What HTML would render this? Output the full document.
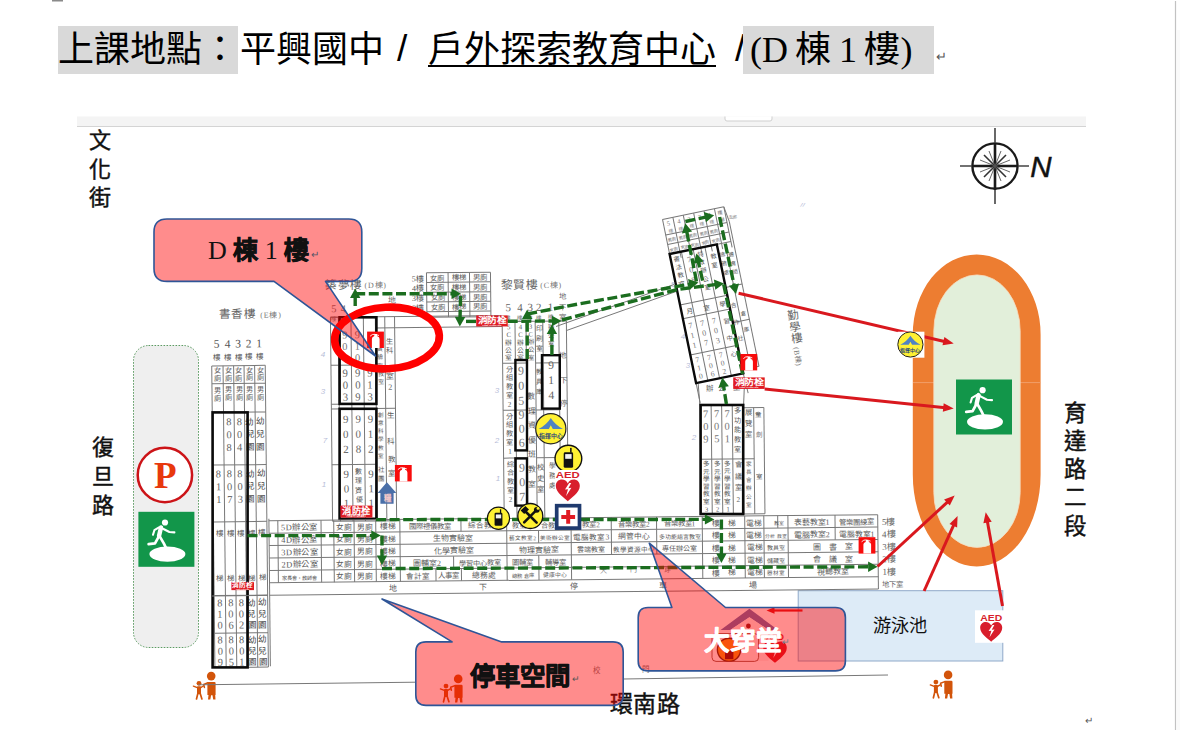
<!DOCTYPE html>
<html lang="zh-TW">
<head>
<meta charset="utf-8">
<title>上課地點</title>
<style>
html,body{margin:0;padding:0;background:#fff;}
body{width:1180px;height:730px;position:relative;overflow:hidden;font-family:"Liberation Serif",serif;}
#title{position:absolute;left:58px;top:26px;height:48px;line-height:48px;font-size:36px;font-weight:300;color:#000;white-space:nowrap;font-family:"Liberation Serif",serif;}
#title span{position:absolute;top:0;height:48px;display:block;}
.hl{background:#d9d9d9;}
svg{position:absolute;left:0;top:0;}
</style>
</head>
<body>
<div id="title">
<span class="hl" style="left:0;width:180px;">上課地點：</span>
<span style="left:182px;">平興國中</span>
<span style="left:339px;font-family:'Liberation Sans',sans-serif;font-size:37px;top:-1px;">/</span>
<span style="left:370px;text-decoration:underline;text-decoration-thickness:2px;text-underline-offset:3px;">戶外探索教育中心</span>
<span style="left:677px;font-family:'Liberation Sans',sans-serif;font-size:37px;top:-1px;">/</span>
<span class="hl" style="left:685px;width:184px;padding-left:7px;word-spacing:-1.5px;">(D 棟 1 樓)</span>
<span style="left:878px;font-size:13px;color:#555;top:7px;font-family:'Liberation Sans',sans-serif;">↵</span>
</div>
<svg width="1180" height="730" viewBox="0 0 1180 730">
<rect x="52.0" y="0.0" width="11.0" height="1.5" fill="#8a8a8a" stroke="none" stroke-width="1" rx="0" />
<rect x="77.0" y="116.5" width="1009.0" height="10.0" fill="#f4f4f4" stroke="none" stroke-width="1" rx="0" />
<line x1="77.0" y1="126.5" x2="1086.0" y2="126.5" stroke="#d4d4d4" stroke-width="1" />
<path d="M725,116.5 V119 Q725,121 727,121 H770 Q772,121 772,119 V116.5" fill="#fff" stroke="#cfcfcf" stroke-width="1"/>
<line x1="1175.5" y1="1.0" x2="1175.5" y2="730.0" stroke="#c2c2c2" stroke-width="1.2" />
<rect x="1176.5" y="30.0" width="4.0" height="700.0" fill="#fafafa" stroke="none" stroke-width="1" rx="0" />
<text x="1089.0" y="724.0" font-size="10" fill="#555" text-anchor="middle" font-weight="normal" font-family="'Liberation Sans', sans-serif" >↵</text>
<defs>
<g id="exit">
 <rect x="0" y="0" width="56" height="55" fill="#12964a"/>
 <ellipse cx="29" cy="42.3" rx="18" ry="7.6" fill="#fff"/>
 <circle cx="26.6" cy="10.7" r="3.1" fill="#fff"/>
 <g fill="none" stroke="#fff" stroke-linecap="round" stroke-linejoin="round">
  <path d="M22.6,15.6 L20.6,24.2" stroke-width="4.4"/>
  <path d="M23.6,16.4 L31,20.2 L36,20.6" stroke-width="2.1"/>
  <path d="M20.6,15.6 L16,18.4 L14.6,23" stroke-width="2.1"/>
  <path d="M20.2,25 L16.6,31.6 L10.2,32.4" stroke-width="2.7"/>
  <path d="M21.6,25 L25.4,31.6 L29,39" stroke-width="2.7"/>
 </g>
</g>
<g id="ext">
 <rect x="0" y="0" width="16.8" height="16.4" fill="#f80c0c"/>
 <path d="M4.8,16.4 V7.4 Q4.8,5.2 7,4.7 L7.5,2.5 H9.9 L10.3,4.7 Q12.5,5.2 12.5,7.4 V16.4 Z" fill="#fff"/>
 <path d="M3,4.6 Q5,2.3 7.9,2.7" fill="none" stroke="#fff" stroke-width="0.9"/>
 <path d="M10,3.3 L11.9,3.9" fill="none" stroke="#fff" stroke-width="0.9"/>
</g>
<g id="hyd">
 <rect x="0" y="0" width="32" height="12" fill="#e01b24"/>
 <text x="16" y="8" font-size="8.6" font-weight="bold" fill="#fff" text-anchor="middle" font-family="'Liberation Sans', sans-serif" textLength="29" lengthAdjust="spacingAndGlyphs">消防栓</text>
 <text x="16" y="11.2" font-size="2.6" font-weight="bold" fill="#fff" text-anchor="middle" font-family="'Liberation Sans', sans-serif">FIRE HYDRANT</text>
</g>
<g id="people" fill="#d2540a" stroke="#d2540a">
 <circle cx="18.7" cy="4.5" r="4.3" stroke="none"/>
 <path d="M14.9,11.5 Q14.9,10.3 16.1,10.3 H21.9 Q23.1,10.3 23.1,11.5 V23.3 H22.7 L23,28 H20.7 L20,23.6 H18.6 L17.8,28 H15.5 L16,23.3 H14.9 Z" stroke="none"/>
 <path d="M15.4,11.2 L11.2,12.9 L11.9,15.8" fill="none" stroke-width="1.5" stroke-linecap="round" stroke-linejoin="round"/>
 <circle cx="6.5" cy="11.7" r="2.4" stroke="none"/>
 <rect x="4.5" y="14.6" width="4" height="8" rx="0.8" stroke="none"/>
 <path d="M0.9,14.5 L4.8,16 M8.2,16 L10.8,14.4" fill="none" stroke-width="1.4" stroke-linecap="round"/>
 <path d="M5.3,22 L4,27.4 M7.7,22 L9.4,27.3" fill="none" stroke-width="1.7" stroke-linecap="round"/>
</g>
<g id="walkie">
 <circle cx="0" cy="0" r="12.5" fill="#fff133" stroke="#111" stroke-width="1.3"/>
 <rect x="-4.4" y="-6" width="8.8" height="14.6" rx="1.4" fill="#111"/>
 <rect x="1.6" y="-10" width="1.4" height="4.4" fill="#111"/>
 <rect x="-3" y="-4.2" width="6" height="4.4" fill="#f2f2f2"/>
</g>
<g id="heart">
 <path d="M0,10.6 C-3,7.6 -12,2.2 -12,-4.6 C-12,-9 -8.8,-11 -6,-11 C-3.2,-11 -1,-9.4 0,-7 C1,-9.4 3.2,-11 6,-11 C8.8,-11 12,-9 12,-4.6 C12,2.2 3,7.6 0,10.6 Z" fill="#d81e2c"/>
 <path d="M1.4,-7.6 L-2.8,-1 L0.2,-1.4 L-1.8,5.6 L3.6,-2.8 L0.6,-2.4 L3.4,-7.6 Z" fill="#fff"/>
</g>
</defs>
<text font-size="22" fill="#111" text-anchor="middle" font-weight="500" font-family="'Liberation Serif', serif" stroke="#111" stroke-width="0.45"><tspan x="100.2" y="148.0">文</tspan><tspan x="100.2" y="176.5">化</tspan><tspan x="100.2" y="205.0">街</tspan></text>
<text font-size="22" fill="#111" text-anchor="middle" font-weight="500" font-family="'Liberation Serif', serif" stroke="#111" stroke-width="0.45"><tspan x="103.4" y="455.4">復</tspan><tspan x="103.4" y="484.1">旦</tspan><tspan x="103.4" y="512.8">路</tspan></text>
<text font-size="22.5" fill="#111" text-anchor="middle" font-weight="500" font-family="'Liberation Serif', serif" stroke="#111" stroke-width="0.45"><tspan x="1075.0" y="420.8">育</tspan><tspan x="1075.0" y="449.0">達</tspan><tspan x="1075.0" y="477.2">路</tspan><tspan x="1075.0" y="505.4">二</tspan><tspan x="1075.0" y="533.6">段</tspan></text>
<text x="645.0" y="712.0" font-size="23" fill="#111" text-anchor="middle" font-weight="500" font-family="'Liberation Serif', serif" letter-spacing="0.6" stroke="#111" stroke-width="0.45">環南路</text>
<rect x="133.5" y="345.5" width="65.0" height="302.0" fill="#efefef" stroke="#5c9b62" stroke-width="1" rx="15" stroke-dasharray="1.6 1.4"/>
<circle cx="164.9" cy="475" r="27.2" fill="#fff" stroke="#cc1418" stroke-width="2.5"/>
<text x="165.2" y="488.0" font-size="37" fill="#e8380d" text-anchor="middle" font-weight="bold" font-family="'Liberation Serif', serif" >P</text>
<use href="#exit" x="138.4" y="511.8"/>
<path d="M912.8,334.4 A63.9,80 0 0 1 1040.6,334.4 V474.6 A63.9,92 0 0 1 912.8,474.6 Z" fill="#ed7d31"/>
<line x1="913.0" y1="382.6" x2="1040.5" y2="382.6" stroke="#f2a777" stroke-width="0.8" />
<path d="M933.8,330.9 A43.2,56 0 0 1 1020.2,330.9 V492.4 A43.2,55 0 0 1 933.8,492.4 Z" fill="#e2efda" stroke="#f8dcc0" stroke-width="0.8"/>
<use href="#exit" x="956" y="379.5"/>
<rect x="798.2" y="590.7" width="204.6" height="70.3" fill="#ddebf7" stroke="#8fa9c9" stroke-width="1" rx="0" />
<text x="899.5" y="632.0" font-size="18.2" fill="#111" text-anchor="middle" font-weight="normal" font-family="'Liberation Sans', sans-serif" >游泳池</text>
<rect x="975.0" y="610.3" width="32.5" height="32.5" fill="#fff" stroke="none" stroke-width="1" rx="0" />
<text x="991.2" y="620.6" font-size="8.4" fill="#d81e2c" text-anchor="middle" font-weight="bold" font-family="'Liberation Sans', sans-serif" textLength="22" lengthAdjust="spacingAndGlyphs">AED</text>
<use href="#heart" transform="translate(991.2,632) scale(0.92)"/>
<use href="#people" x="192.5" y="671.6"/>
<use href="#people" x="439.5" y="674.4"/>
<use href="#people" x="929.4" y="670.4"/>
<g stroke="#1a1a1a" fill="none">
<circle cx="995" cy="166" r="22.6" stroke-width="2.4"/>
<path d="M960,166 H1029 M995,128 V204" stroke-width="1.6" stroke="#444"/>
<path d="M972,166 H1018 M995,143 V190" stroke-width="2.6"/>
<path d="M984,155 L1006,177 M1006,155 L984,177" stroke-width="1.6" stroke="#333"/>
<path d="M989,151 L1001,181 M1001,151 L989,181 M980,160 L1010,172 M1010,160 L980,172" stroke-width="0.9" stroke="#555"/>
</g>
<text x="1041.0" y="177.4" font-size="29.5" fill="#111" text-anchor="middle" font-weight="normal" font-family="'Liberation Sans', sans-serif" font-style="italic" stroke="#111" stroke-width="0.5">N</text>
<g transform="rotate(-0.6 240 420)">
<text x="238.5" y="318.0" font-size="11.6" fill="#666" text-anchor="middle" font-weight="normal" font-family="'Liberation Serif', serif" letter-spacing="0.6">書香樓</text>
<text x="272.0" y="318.0" font-size="8" fill="#777" text-anchor="middle" font-weight="normal" font-family="'Liberation Serif', serif" letter-spacing="0.8">(E棟)</text>
<line x1="212.3" y1="365.6" x2="212.3" y2="667.3" stroke="#787878" stroke-width="1.0" />
<line x1="223.6" y1="365.6" x2="223.6" y2="667.3" stroke="#787878" stroke-width="1.0" />
<line x1="234.2" y1="365.6" x2="234.2" y2="667.3" stroke="#787878" stroke-width="1.0" />
<line x1="244.6" y1="365.6" x2="244.6" y2="667.3" stroke="#787878" stroke-width="1.0" />
<line x1="255.2" y1="365.6" x2="255.2" y2="667.3" stroke="#787878" stroke-width="1.0" />
<line x1="265.8" y1="365.6" x2="265.8" y2="667.3" stroke="#787878" stroke-width="1.0" />
<line x1="212.3" y1="365.6" x2="265.8" y2="365.6" stroke="#787878" stroke-width="1.0" />
<line x1="212.3" y1="383.4" x2="265.8" y2="383.4" stroke="#787878" stroke-width="1.0" />
<line x1="212.3" y1="412.2" x2="265.8" y2="412.2" stroke="#787878" stroke-width="1.0" />
<line x1="212.3" y1="464.8" x2="265.8" y2="464.8" stroke="#787878" stroke-width="1.0" />
<line x1="212.3" y1="521.6" x2="265.8" y2="521.6" stroke="#787878" stroke-width="1.0" />
<line x1="212.3" y1="595.3" x2="265.8" y2="595.3" stroke="#787878" stroke-width="1.0" />
<line x1="212.3" y1="633.0" x2="265.8" y2="633.0" stroke="#787878" stroke-width="1.0" />
<line x1="212.3" y1="667.3" x2="265.8" y2="667.3" stroke="#787878" stroke-width="1.0" />
<text x="217.4" y="347.5" font-size="11.5" fill="#555" text-anchor="middle" font-weight="normal" font-family="'Liberation Serif', serif" >5</text>
<text x="217.4" y="359.5" font-size="7.5" fill="#555" text-anchor="middle" font-weight="normal" font-family="'Liberation Serif', serif" >樓</text>
<text font-size="7.2" fill="#5a5a5a" text-anchor="middle" font-weight="normal" font-family="'Liberation Serif', serif" ><tspan x="217.9" y="372.9">女</tspan><tspan x="217.9" y="380.5">廁</tspan></text>
<text font-size="7.2" fill="#5a5a5a" text-anchor="middle" font-weight="normal" font-family="'Liberation Serif', serif" ><tspan x="217.9" y="392.3">男</tspan><tspan x="217.9" y="400.3">廁</tspan></text>
<text font-size="7.5" fill="#5a5a5a" text-anchor="middle" font-weight="normal" font-family="'Liberation Serif', serif" ><tspan x="217.9" y="535.6">樓</tspan></text>
<text font-size="7.5" fill="#5a5a5a" text-anchor="middle" font-weight="normal" font-family="'Liberation Serif', serif" ><tspan x="217.9" y="580.6">梯</tspan></text>
<text x="228.4" y="347.5" font-size="11.5" fill="#555" text-anchor="middle" font-weight="normal" font-family="'Liberation Serif', serif" >4</text>
<text x="228.4" y="359.5" font-size="7.5" fill="#555" text-anchor="middle" font-weight="normal" font-family="'Liberation Serif', serif" >樓</text>
<text font-size="7.2" fill="#5a5a5a" text-anchor="middle" font-weight="normal" font-family="'Liberation Serif', serif" ><tspan x="228.9" y="372.9">女</tspan><tspan x="228.9" y="380.5">廁</tspan></text>
<text font-size="7.2" fill="#5a5a5a" text-anchor="middle" font-weight="normal" font-family="'Liberation Serif', serif" ><tspan x="228.9" y="392.3">男</tspan><tspan x="228.9" y="400.3">廁</tspan></text>
<text font-size="7.5" fill="#5a5a5a" text-anchor="middle" font-weight="normal" font-family="'Liberation Serif', serif" ><tspan x="228.9" y="535.6">樓</tspan></text>
<text font-size="7.5" fill="#5a5a5a" text-anchor="middle" font-weight="normal" font-family="'Liberation Serif', serif" ><tspan x="228.9" y="580.6">梯</tspan></text>
<text x="238.9" y="347.5" font-size="11.5" fill="#555" text-anchor="middle" font-weight="normal" font-family="'Liberation Serif', serif" >3</text>
<text x="238.9" y="359.5" font-size="7.5" fill="#555" text-anchor="middle" font-weight="normal" font-family="'Liberation Serif', serif" >樓</text>
<text font-size="7.2" fill="#5a5a5a" text-anchor="middle" font-weight="normal" font-family="'Liberation Serif', serif" ><tspan x="239.4" y="372.9">女</tspan><tspan x="239.4" y="380.5">廁</tspan></text>
<text font-size="7.2" fill="#5a5a5a" text-anchor="middle" font-weight="normal" font-family="'Liberation Serif', serif" ><tspan x="239.4" y="392.3">男</tspan><tspan x="239.4" y="400.3">廁</tspan></text>
<text font-size="7.5" fill="#5a5a5a" text-anchor="middle" font-weight="normal" font-family="'Liberation Serif', serif" ><tspan x="239.4" y="535.6">樓</tspan></text>
<text font-size="7.5" fill="#5a5a5a" text-anchor="middle" font-weight="normal" font-family="'Liberation Serif', serif" ><tspan x="239.4" y="580.6">梯</tspan></text>
<text x="249.4" y="347.5" font-size="11.5" fill="#555" text-anchor="middle" font-weight="normal" font-family="'Liberation Serif', serif" >2</text>
<text x="249.4" y="359.5" font-size="7.5" fill="#555" text-anchor="middle" font-weight="normal" font-family="'Liberation Serif', serif" >樓</text>
<text font-size="7.2" fill="#5a5a5a" text-anchor="middle" font-weight="normal" font-family="'Liberation Serif', serif" ><tspan x="249.9" y="372.9">女</tspan><tspan x="249.9" y="380.5">廁</tspan></text>
<text font-size="7.2" fill="#5a5a5a" text-anchor="middle" font-weight="normal" font-family="'Liberation Serif', serif" ><tspan x="249.9" y="392.3">男</tspan><tspan x="249.9" y="400.3">廁</tspan></text>
<text font-size="7.5" fill="#5a5a5a" text-anchor="middle" font-weight="normal" font-family="'Liberation Serif', serif" ><tspan x="249.9" y="535.6">樓</tspan></text>
<text font-size="7.5" fill="#5a5a5a" text-anchor="middle" font-weight="normal" font-family="'Liberation Serif', serif" ><tspan x="249.9" y="580.6">梯</tspan></text>
<text x="260.0" y="347.5" font-size="11.5" fill="#555" text-anchor="middle" font-weight="normal" font-family="'Liberation Serif', serif" >1</text>
<text x="260.0" y="359.5" font-size="7.5" fill="#555" text-anchor="middle" font-weight="normal" font-family="'Liberation Serif', serif" >樓</text>
<text font-size="7.2" fill="#5a5a5a" text-anchor="middle" font-weight="normal" font-family="'Liberation Serif', serif" ><tspan x="260.5" y="372.9">女</tspan><tspan x="260.5" y="380.5">廁</tspan></text>
<text font-size="7.2" fill="#5a5a5a" text-anchor="middle" font-weight="normal" font-family="'Liberation Serif', serif" ><tspan x="260.5" y="392.3">男</tspan><tspan x="260.5" y="400.3">廁</tspan></text>
<text font-size="7.5" fill="#5a5a5a" text-anchor="middle" font-weight="normal" font-family="'Liberation Serif', serif" ><tspan x="260.5" y="535.6">樓</tspan></text>
<text font-size="7.5" fill="#5a5a5a" text-anchor="middle" font-weight="normal" font-family="'Liberation Serif', serif" ><tspan x="260.5" y="580.6">梯</tspan></text>
<text font-size="10.5" fill="#666" text-anchor="middle" font-weight="normal" font-family="'Liberation Serif', serif" ><tspan x="228.9" y="425.2">8</tspan><tspan x="228.9" y="438.0">0</tspan><tspan x="228.9" y="450.8">8</tspan></text>
<text font-size="10.5" fill="#666" text-anchor="middle" font-weight="normal" font-family="'Liberation Serif', serif" ><tspan x="239.4" y="425.2">8</tspan><tspan x="239.4" y="438.0">0</tspan><tspan x="239.4" y="450.8">4</tspan></text>
<text font-size="8.6" fill="#444" text-anchor="middle" font-weight="normal" font-family="'Liberation Serif', serif" ><tspan x="249.9" y="424.6">幼</tspan><tspan x="249.9" y="437.4">兒</tspan><tspan x="249.9" y="450.2">園</tspan></text>
<text font-size="8.6" fill="#444" text-anchor="middle" font-weight="normal" font-family="'Liberation Serif', serif" ><tspan x="260.5" y="424.6">幼</tspan><tspan x="260.5" y="437.4">兒</tspan><tspan x="260.5" y="450.2">園</tspan></text>
<text font-size="10.5" fill="#666" text-anchor="middle" font-weight="normal" font-family="'Liberation Serif', serif" ><tspan x="217.9" y="477.2">8</tspan><tspan x="217.9" y="490.0">1</tspan><tspan x="217.9" y="502.8">1</tspan></text>
<text font-size="10.5" fill="#666" text-anchor="middle" font-weight="normal" font-family="'Liberation Serif', serif" ><tspan x="228.9" y="477.2">8</tspan><tspan x="228.9" y="490.0">0</tspan><tspan x="228.9" y="502.8">7</tspan></text>
<text font-size="10.5" fill="#666" text-anchor="middle" font-weight="normal" font-family="'Liberation Serif', serif" ><tspan x="239.4" y="477.2">8</tspan><tspan x="239.4" y="490.0">0</tspan><tspan x="239.4" y="502.8">3</tspan></text>
<text font-size="8.6" fill="#444" text-anchor="middle" font-weight="normal" font-family="'Liberation Serif', serif" ><tspan x="249.9" y="476.6">幼</tspan><tspan x="249.9" y="489.4">兒</tspan><tspan x="249.9" y="502.2">園</tspan></text>
<text font-size="8.6" fill="#444" text-anchor="middle" font-weight="normal" font-family="'Liberation Serif', serif" ><tspan x="260.5" y="476.6">幼</tspan><tspan x="260.5" y="489.4">兒</tspan><tspan x="260.5" y="502.2">園</tspan></text>
<text font-size="10.5" fill="#666" text-anchor="middle" font-weight="normal" font-family="'Liberation Serif', serif" ><tspan x="217.9" y="606.2">8</tspan><tspan x="217.9" y="617.4">1</tspan><tspan x="217.9" y="628.6">0</tspan></text>
<text font-size="10.5" fill="#666" text-anchor="middle" font-weight="normal" font-family="'Liberation Serif', serif" ><tspan x="228.9" y="606.2">8</tspan><tspan x="228.9" y="617.4">0</tspan><tspan x="228.9" y="628.6">6</tspan></text>
<text font-size="10.5" fill="#666" text-anchor="middle" font-weight="normal" font-family="'Liberation Serif', serif" ><tspan x="239.4" y="606.2">8</tspan><tspan x="239.4" y="617.4">0</tspan><tspan x="239.4" y="628.6">2</tspan></text>
<text font-size="8.6" fill="#444" text-anchor="middle" font-weight="normal" font-family="'Liberation Serif', serif" ><tspan x="249.9" y="605.6">幼</tspan><tspan x="249.9" y="616.8">兒</tspan><tspan x="249.9" y="628.0">園</tspan></text>
<text font-size="8.6" fill="#444" text-anchor="middle" font-weight="normal" font-family="'Liberation Serif', serif" ><tspan x="260.5" y="605.6">幼</tspan><tspan x="260.5" y="616.8">兒</tspan><tspan x="260.5" y="628.0">園</tspan></text>
<text font-size="10.5" fill="#666" text-anchor="middle" font-weight="normal" font-family="'Liberation Serif', serif" ><tspan x="217.9" y="643.2">8</tspan><tspan x="217.9" y="654.4">0</tspan><tspan x="217.9" y="665.6">9</tspan></text>
<text font-size="10.5" fill="#666" text-anchor="middle" font-weight="normal" font-family="'Liberation Serif', serif" ><tspan x="228.9" y="643.2">8</tspan><tspan x="228.9" y="654.4">0</tspan><tspan x="228.9" y="665.6">5</tspan></text>
<text font-size="10.5" fill="#666" text-anchor="middle" font-weight="normal" font-family="'Liberation Serif', serif" ><tspan x="239.4" y="643.2">8</tspan><tspan x="239.4" y="654.4">0</tspan><tspan x="239.4" y="665.6">1</tspan></text>
<text font-size="8.6" fill="#444" text-anchor="middle" font-weight="normal" font-family="'Liberation Serif', serif" ><tspan x="249.9" y="642.6">幼</tspan><tspan x="249.9" y="653.8">兒</tspan><tspan x="249.9" y="665.0">園</tspan></text>
<text font-size="8.6" fill="#444" text-anchor="middle" font-weight="normal" font-family="'Liberation Serif', serif" ><tspan x="260.5" y="642.6">幼</tspan><tspan x="260.5" y="653.8">兒</tspan><tspan x="260.5" y="665.0">園</tspan></text>
</g>
<rect x="212.6" y="412.4" width="35.0" height="255.0" fill="none" stroke="#0a0a0a" stroke-width="2.6" rx="0" />
<g transform="rotate(-0.6 365 420)">
<text x="345.5" y="288.5" font-size="11.6" fill="#666" text-anchor="middle" font-weight="normal" font-family="'Liberation Serif', serif" letter-spacing="0.6">築夢樓</text>
<text x="377.0" y="288.0" font-size="8" fill="#777" text-anchor="middle" font-weight="normal" font-family="'Liberation Serif', serif" letter-spacing="0.8">(D棟)</text>
<line x1="331.5" y1="317.0" x2="331.5" y2="521.0" stroke="#787878" stroke-width="1.0" />
<line x1="339.4" y1="317.0" x2="339.4" y2="521.0" stroke="#787878" stroke-width="1.0" />
<line x1="352.0" y1="317.0" x2="352.0" y2="521.0" stroke="#787878" stroke-width="1.0" />
<line x1="364.4" y1="317.0" x2="364.4" y2="521.0" stroke="#787878" stroke-width="1.0" />
<line x1="376.4" y1="317.0" x2="376.4" y2="521.0" stroke="#787878" stroke-width="1.0" />
<line x1="385.8" y1="317.0" x2="385.8" y2="521.0" stroke="#787878" stroke-width="1.0" />
<line x1="395.6" y1="317.0" x2="395.6" y2="521.0" stroke="#787878" stroke-width="1.0" />
<line x1="331.5" y1="317.0" x2="376.4" y2="317.0" stroke="#787878" stroke-width="1.0" />
<line x1="331.5" y1="365.0" x2="376.4" y2="365.0" stroke="#787878" stroke-width="1.0" />
<line x1="331.5" y1="404.0" x2="376.4" y2="404.0" stroke="#787878" stroke-width="1.0" />
<line x1="331.5" y1="408.6" x2="376.4" y2="408.6" stroke="#787878" stroke-width="1.0" />
<line x1="331.5" y1="464.3" x2="376.4" y2="464.3" stroke="#787878" stroke-width="1.0" />
<line x1="331.5" y1="521.0" x2="376.4" y2="521.0" stroke="#787878" stroke-width="1.0" />
<line x1="376.4" y1="328.0" x2="395.6" y2="328.0" stroke="#787878" stroke-width="1.0" />
<line x1="376.4" y1="408.6" x2="395.6" y2="408.6" stroke="#787878" stroke-width="1.0" />
<line x1="376.4" y1="521.0" x2="395.6" y2="521.0" stroke="#787878" stroke-width="1.0" />
<text x="335.0" y="312.0" font-size="10.5" fill="#777" text-anchor="middle" font-weight="normal" font-family="'Liberation Serif', serif" >5</text>
<text x="344.5" y="312.0" font-size="10.5" fill="#777" text-anchor="middle" font-weight="normal" font-family="'Liberation Serif', serif" >4</text>
<text x="335.0" y="321.0" font-size="5.5" fill="#777" text-anchor="middle" font-weight="normal" font-family="'Liberation Serif', serif" >樓</text>
<text font-size="10.5" fill="#777" text-anchor="middle" font-weight="normal" font-family="'Liberation Serif', serif" ><tspan x="345.7" y="338.2">9</tspan><tspan x="345.7" y="349.7">0</tspan></text>
<text font-size="10.5" fill="#777" text-anchor="middle" font-weight="normal" font-family="'Liberation Serif', serif" ><tspan x="358.2" y="338.2">9</tspan><tspan x="358.2" y="349.7">1</tspan><tspan x="358.2" y="361.2">0</tspan></text>
<text font-size="10.8" fill="#666" text-anchor="middle" font-weight="normal" font-family="'Liberation Serif', serif" ><tspan x="345.7" y="376.5">9</tspan><tspan x="345.7" y="388.5">0</tspan><tspan x="345.7" y="400.5">3</tspan></text>
<text font-size="10.8" fill="#666" text-anchor="middle" font-weight="normal" font-family="'Liberation Serif', serif" ><tspan x="358.2" y="376.5">9</tspan><tspan x="358.2" y="388.5">0</tspan><tspan x="358.2" y="400.5">9</tspan></text>
<text font-size="10.8" fill="#666" text-anchor="middle" font-weight="normal" font-family="'Liberation Serif', serif" ><tspan x="370.4" y="376.5">9</tspan><tspan x="370.4" y="388.5">1</tspan><tspan x="370.4" y="400.5">3</tspan></text>
<text font-size="11" fill="#666" text-anchor="middle" font-weight="normal" font-family="'Liberation Serif', serif" ><tspan x="345.7" y="422.7">9</tspan><tspan x="345.7" y="437.7">0</tspan><tspan x="345.7" y="452.7">2</tspan></text>
<text font-size="11" fill="#666" text-anchor="middle" font-weight="normal" font-family="'Liberation Serif', serif" ><tspan x="358.2" y="422.7">9</tspan><tspan x="358.2" y="437.7">0</tspan><tspan x="358.2" y="452.7">8</tspan></text>
<text font-size="11" fill="#666" text-anchor="middle" font-weight="normal" font-family="'Liberation Serif', serif" ><tspan x="370.4" y="422.7">9</tspan><tspan x="370.4" y="437.7">1</tspan><tspan x="370.4" y="452.7">2</tspan></text>
<text font-size="11" fill="#666" text-anchor="middle" font-weight="normal" font-family="'Liberation Serif', serif" ><tspan x="345.7" y="477.7">9</tspan><tspan x="345.7" y="492.2">0</tspan><tspan x="345.7" y="506.7">1</tspan></text>
<text font-size="11" fill="#666" text-anchor="middle" font-weight="normal" font-family="'Liberation Serif', serif" ><tspan x="370.4" y="477.7">9</tspan><tspan x="370.4" y="492.2">1</tspan><tspan x="370.4" y="506.7">1</tspan></text>
<text font-size="7" fill="#5a5a5a" text-anchor="middle" font-weight="normal" font-family="'Liberation Serif', serif" ><tspan x="358.2" y="474.2">數</tspan><tspan x="358.2" y="483.4">理</tspan><tspan x="358.2" y="492.6">資</tspan><tspan x="358.2" y="501.8">優</tspan></text>
<text font-size="6" fill="#5a5a5a" text-anchor="middle" font-weight="normal" font-family="'Liberation Serif', serif" ><tspan x="381.0" y="351.3">實</tspan><tspan x="381.0" y="359.5">驗</tspan><tspan x="381.0" y="367.7">室</tspan><tspan x="381.0" y="375.9">教</tspan><tspan x="381.0" y="384.1">室</tspan></text>
<text font-size="7.2" fill="#5a5a5a" text-anchor="middle" font-weight="normal" font-family="'Liberation Serif', serif" ><tspan x="390.6" y="344.3">生</tspan><tspan x="390.6" y="353.3">科</tspan></text>
<text font-size="8" fill="#5a5a5a" text-anchor="middle" font-weight="normal" font-family="'Liberation Serif', serif" ><tspan x="390.6" y="379.0">室</tspan><tspan x="390.6" y="390.0">2</tspan></text>
<text font-size="5.6" fill="#5a5a5a" text-anchor="middle" font-weight="normal" font-family="'Liberation Serif', serif" ><tspan x="381.0" y="416.9">創</tspan><tspan x="381.0" y="425.1">意</tspan><tspan x="381.0" y="433.3">科</tspan><tspan x="381.0" y="441.5">學</tspan><tspan x="381.0" y="449.7">教</tspan><tspan x="381.0" y="457.9">室</tspan></text>
<text font-size="6.5" fill="#5a5a5a" text-anchor="middle" font-weight="normal" font-family="'Liberation Serif', serif" ><tspan x="381.0" y="471.7">社</tspan><tspan x="381.0" y="480.7">團</tspan></text>
<text font-size="7.5" fill="#5a5a5a" text-anchor="middle" font-weight="normal" font-family="'Liberation Serif', serif" ><tspan x="390.6" y="418.6">生</tspan></text>
<text font-size="7.5" fill="#5a5a5a" text-anchor="middle" font-weight="normal" font-family="'Liberation Serif', serif" ><tspan x="390.6" y="444.6">科</tspan></text>
<text font-size="7.5" fill="#5a5a5a" text-anchor="middle" font-weight="normal" font-family="'Liberation Serif', serif" ><tspan x="390.6" y="462.6">教</tspan></text>
<text font-size="7.5" fill="#5a5a5a" text-anchor="middle" font-weight="normal" font-family="'Liberation Serif', serif" ><tspan x="390.6" y="476.6">室</tspan></text>
<line x1="331.5" y1="317.0" x2="502.6" y2="317.0" stroke="#787878" stroke-width="1.0" />
<line x1="395.6" y1="328.0" x2="503.0" y2="328.0" stroke="#787878" stroke-width="1.0" />
</g>
<rect x="339.6" y="317.3" width="36.8" height="86.6" fill="none" stroke="#0a0a0a" stroke-width="2.6" rx="0" />
<rect x="339.6" y="408.8" width="36.8" height="110.0" fill="none" stroke="#0a0a0a" stroke-width="2.6" rx="0" />
<g transform="rotate(-0.6 458 295)">
<line x1="426.7" y1="272.5" x2="426.7" y2="317.0" stroke="#787878" stroke-width="1.0" />
<line x1="448.3" y1="272.5" x2="448.3" y2="317.0" stroke="#787878" stroke-width="1.0" />
<line x1="469.7" y1="272.5" x2="469.7" y2="317.0" stroke="#787878" stroke-width="1.0" />
<line x1="490.7" y1="272.5" x2="490.7" y2="317.0" stroke="#787878" stroke-width="1.0" />
<line x1="426.7" y1="272.5" x2="490.7" y2="272.5" stroke="#787878" stroke-width="1.0" />
<line x1="426.7" y1="282.2" x2="490.7" y2="282.2" stroke="#787878" stroke-width="1.0" />
<line x1="426.7" y1="292.0" x2="490.7" y2="292.0" stroke="#787878" stroke-width="1.0" />
<line x1="426.7" y1="301.7" x2="490.7" y2="301.7" stroke="#787878" stroke-width="1.0" />
<line x1="426.7" y1="311.4" x2="490.7" y2="311.4" stroke="#787878" stroke-width="1.0" />
<line x1="426.7" y1="317.0" x2="490.7" y2="317.0" stroke="#787878" stroke-width="1.0" />
<text x="418.0" y="281.1" font-size="8" fill="#555" text-anchor="middle" font-weight="normal" font-family="'Liberation Serif', serif" >5樓</text>
<text x="437.5" y="280.3" font-size="7.4" fill="#5a5a5a" text-anchor="middle" font-weight="normal" font-family="'Liberation Serif', serif" >女廁</text>
<text x="459.0" y="280.3" font-size="7.4" fill="#5a5a5a" text-anchor="middle" font-weight="normal" font-family="'Liberation Serif', serif" >樓梯</text>
<text x="480.2" y="280.3" font-size="7.4" fill="#5a5a5a" text-anchor="middle" font-weight="normal" font-family="'Liberation Serif', serif" >男廁</text>
<text x="418.0" y="290.8" font-size="8" fill="#555" text-anchor="middle" font-weight="normal" font-family="'Liberation Serif', serif" >4樓</text>
<text x="437.5" y="290.0" font-size="7.4" fill="#5a5a5a" text-anchor="middle" font-weight="normal" font-family="'Liberation Serif', serif" >女廁</text>
<text x="459.0" y="290.0" font-size="7.4" fill="#5a5a5a" text-anchor="middle" font-weight="normal" font-family="'Liberation Serif', serif" >樓梯</text>
<text x="480.2" y="290.0" font-size="7.4" fill="#5a5a5a" text-anchor="middle" font-weight="normal" font-family="'Liberation Serif', serif" >男廁</text>
<text x="418.0" y="300.6" font-size="8" fill="#555" text-anchor="middle" font-weight="normal" font-family="'Liberation Serif', serif" >3樓</text>
<text x="437.5" y="299.8" font-size="7.4" fill="#5a5a5a" text-anchor="middle" font-weight="normal" font-family="'Liberation Serif', serif" >女廁</text>
<text x="459.0" y="299.8" font-size="7.4" fill="#5a5a5a" text-anchor="middle" font-weight="normal" font-family="'Liberation Serif', serif" >樓梯</text>
<text x="480.2" y="299.8" font-size="7.4" fill="#5a5a5a" text-anchor="middle" font-weight="normal" font-family="'Liberation Serif', serif" >男廁</text>
<text x="418.0" y="310.3" font-size="8" fill="#555" text-anchor="middle" font-weight="normal" font-family="'Liberation Serif', serif" >2樓</text>
<text x="437.5" y="309.5" font-size="7.4" fill="#5a5a5a" text-anchor="middle" font-weight="normal" font-family="'Liberation Serif', serif" >女廁</text>
<text x="459.0" y="309.5" font-size="7.4" fill="#5a5a5a" text-anchor="middle" font-weight="normal" font-family="'Liberation Serif', serif" >樓梯</text>
<text x="480.2" y="309.5" font-size="7.4" fill="#5a5a5a" text-anchor="middle" font-weight="normal" font-family="'Liberation Serif', serif" >男廁</text>
<text x="392.0" y="302.5" font-size="8" fill="#666" text-anchor="middle" font-weight="normal" font-family="'Liberation Serif', serif" >地</text>
</g>
<g transform="rotate(-0.6 535 420)">
<text x="521.0" y="288.5" font-size="11.8" fill="#666" text-anchor="middle" font-weight="normal" font-family="'Liberation Serif', serif" letter-spacing="0.6">黎賢樓</text>
<text x="552.5" y="288.0" font-size="8" fill="#777" text-anchor="middle" font-weight="normal" font-family="'Liberation Serif', serif" letter-spacing="0.8">(C棟)</text>
<line x1="503.2" y1="321.3" x2="503.2" y2="519.0" stroke="#787878" stroke-width="1.0" />
<line x1="516.0" y1="321.3" x2="516.0" y2="519.0" stroke="#787878" stroke-width="1.0" />
<line x1="527.0" y1="321.3" x2="527.0" y2="519.0" stroke="#787878" stroke-width="1.0" />
<line x1="536.2" y1="321.3" x2="536.2" y2="519.0" stroke="#787878" stroke-width="1.0" />
<line x1="543.8" y1="321.3" x2="543.8" y2="519.0" stroke="#787878" stroke-width="1.0" />
<line x1="559.8" y1="321.3" x2="559.8" y2="519.0" stroke="#787878" stroke-width="1.0" />
<line x1="567.4" y1="321.3" x2="567.4" y2="519.0" stroke="#787878" stroke-width="1.0" />
<line x1="503.2" y1="321.3" x2="527.0" y2="321.3" stroke="#787878" stroke-width="1.0" />
<line x1="503.2" y1="363.0" x2="527.0" y2="363.0" stroke="#787878" stroke-width="1.0" />
<line x1="503.2" y1="410.0" x2="527.0" y2="410.0" stroke="#787878" stroke-width="1.0" />
<line x1="503.2" y1="457.8" x2="527.0" y2="457.8" stroke="#787878" stroke-width="1.0" />
<line x1="503.2" y1="321.3" x2="567.4" y2="321.3" stroke="#787878" stroke-width="1.0" />
<line x1="536.2" y1="363.0" x2="559.8" y2="363.0" stroke="#787878" stroke-width="1.0" />
<line x1="536.2" y1="410.0" x2="559.8" y2="410.0" stroke="#787878" stroke-width="1.0" />
<line x1="536.2" y1="457.8" x2="559.8" y2="457.8" stroke="#787878" stroke-width="1.0" />
<text x="509.5" y="311.0" font-size="11" fill="#666" text-anchor="middle" font-weight="normal" font-family="'Liberation Serif', serif" >5</text>
<text x="509.5" y="319.6" font-size="5.5" fill="#777" text-anchor="middle" font-weight="normal" font-family="'Liberation Serif', serif" >樓</text>
<text x="521.2" y="311.0" font-size="11" fill="#666" text-anchor="middle" font-weight="normal" font-family="'Liberation Serif', serif" >4</text>
<text x="521.2" y="319.6" font-size="5.5" fill="#777" text-anchor="middle" font-weight="normal" font-family="'Liberation Serif', serif" >樓</text>
<text x="531.4" y="311.0" font-size="11" fill="#666" text-anchor="middle" font-weight="normal" font-family="'Liberation Serif', serif" >3</text>
<text x="531.4" y="319.6" font-size="5.5" fill="#777" text-anchor="middle" font-weight="normal" font-family="'Liberation Serif', serif" >樓</text>
<text x="540.0" y="311.0" font-size="11" fill="#666" text-anchor="middle" font-weight="normal" font-family="'Liberation Serif', serif" >2</text>
<text x="540.0" y="319.6" font-size="5.5" fill="#777" text-anchor="middle" font-weight="normal" font-family="'Liberation Serif', serif" >樓</text>
<text x="551.6" y="311.0" font-size="11" fill="#666" text-anchor="middle" font-weight="normal" font-family="'Liberation Serif', serif" >1</text>
<text x="551.6" y="319.6" font-size="5.5" fill="#777" text-anchor="middle" font-weight="normal" font-family="'Liberation Serif', serif" >樓</text>
<text font-size="7.5" fill="#666" text-anchor="middle" font-weight="normal" font-family="'Liberation Serif', serif" ><tspan x="563.5" y="299.6">地</tspan><tspan x="563.5" y="310.1">下</tspan><tspan x="563.5" y="320.6">室</tspan></text>
<text font-size="6.8" fill="#5a5a5a" text-anchor="middle" font-weight="normal" font-family="'Liberation Serif', serif" ><tspan x="509.6" y="329.0">5</tspan><tspan x="509.6" y="336.8">C</tspan><tspan x="509.6" y="344.6">辦</tspan><tspan x="509.6" y="352.4">公</tspan><tspan x="509.6" y="360.2">室</tspan></text>
<text font-size="6.8" fill="#5a5a5a" text-anchor="middle" font-weight="normal" font-family="'Liberation Serif', serif" ><tspan x="521.5" y="329.0">4</tspan><tspan x="521.5" y="336.8">C</tspan><tspan x="521.5" y="344.6">辦</tspan><tspan x="521.5" y="352.4">公</tspan><tspan x="521.5" y="360.2">室</tspan></text>
<text font-size="6.4" fill="#5a5a5a" text-anchor="middle" font-weight="normal" font-family="'Liberation Serif', serif" ><tspan x="531.6" y="328.6">3</tspan><tspan x="531.6" y="336.4">C</tspan><tspan x="531.6" y="344.2">辦</tspan><tspan x="531.6" y="352.0">公</tspan><tspan x="531.6" y="359.8">室</tspan></text>
<text font-size="7" fill="#5a5a5a" text-anchor="middle" font-weight="normal" font-family="'Liberation Serif', serif" ><tspan x="540.0" y="331.2">印</tspan><tspan x="540.0" y="341.2">刷</tspan><tspan x="540.0" y="351.2">室</tspan></text>
<text font-size="6.4" fill="#5a5a5a" text-anchor="middle" font-weight="normal" font-family="'Liberation Serif', serif" ><tspan x="551.6" y="329.6">辦</tspan><tspan x="551.6" y="338.0">公</tspan><tspan x="551.6" y="346.4">室</tspan></text>
<text font-size="7.2" fill="#5a5a5a" text-anchor="middle" font-weight="normal" font-family="'Liberation Serif', serif" ><tspan x="509.6" y="371.3">分</tspan><tspan x="509.6" y="380.1">組</tspan><tspan x="509.6" y="388.9">教</tspan><tspan x="509.6" y="397.7">室</tspan><tspan x="509.6" y="406.5">2</tspan></text>
<text font-size="7.2" fill="#5a5a5a" text-anchor="middle" font-weight="normal" font-family="'Liberation Serif', serif" ><tspan x="509.6" y="418.3">分</tspan><tspan x="509.6" y="427.1">組</tspan><tspan x="509.6" y="435.9">教</tspan><tspan x="509.6" y="444.7">室</tspan><tspan x="509.6" y="453.5">1</tspan></text>
<text font-size="7.2" fill="#5a5a5a" text-anchor="middle" font-weight="normal" font-family="'Liberation Serif', serif" ><tspan x="509.6" y="466.3">綜</tspan><tspan x="509.6" y="475.1">合</tspan><tspan x="509.6" y="483.9">教</tspan><tspan x="509.6" y="492.7">室</tspan><tspan x="509.6" y="501.5">2</tspan></text>
<text font-size="12" fill="#777" text-anchor="middle" font-weight="normal" font-family="'Liberation Serif', serif" ><tspan x="521.5" y="374.6">9</tspan><tspan x="521.5" y="389.6">0</tspan><tspan x="521.5" y="404.6">5</tspan></text>
<text font-size="12" fill="#777" text-anchor="middle" font-weight="normal" font-family="'Liberation Serif', serif" ><tspan x="521.5" y="418.6">9</tspan><tspan x="521.5" y="432.6">0</tspan><tspan x="521.5" y="446.6">6</tspan></text>
<text font-size="12" fill="#777" text-anchor="middle" font-weight="normal" font-family="'Liberation Serif', serif" ><tspan x="521.5" y="471.6">9</tspan><tspan x="521.5" y="486.1">0</tspan><tspan x="521.5" y="500.6">7</tspan></text>
<text font-size="8" fill="#5a5a5a" text-anchor="middle" font-weight="normal" font-family="'Liberation Serif', serif" ><tspan x="531.6" y="399.0">數</tspan><tspan x="531.6" y="413.6">理</tspan><tspan x="531.6" y="428.2">資</tspan><tspan x="531.6" y="442.8">優</tspan><tspan x="531.6" y="457.4">班</tspan><tspan x="531.6" y="472.0">教</tspan><tspan x="531.6" y="486.6">室</tspan></text>
<text font-size="6.5" fill="#5a5a5a" text-anchor="middle" font-weight="normal" font-family="'Liberation Serif', serif" ><tspan x="540.0" y="373.7">教</tspan><tspan x="540.0" y="383.7">具</tspan><tspan x="540.0" y="393.7">庫</tspan></text>
<text font-size="7.5" fill="#5a5a5a" text-anchor="middle" font-weight="normal" font-family="'Liberation Serif', serif" ><tspan x="540.0" y="469.6">校</tspan><tspan x="540.0" y="480.6">史</tspan><tspan x="540.0" y="491.6">室</tspan></text>
<text font-size="11.5" fill="#666" text-anchor="middle" font-weight="normal" font-family="'Liberation Serif', serif" ><tspan x="551.6" y="369.1">9</tspan><tspan x="551.6" y="384.1">1</tspan><tspan x="551.6" y="399.1">4</tspan></text>
<text font-size="7.5" fill="#5a5a5a" text-anchor="middle" font-weight="normal" font-family="'Liberation Serif', serif" ><tspan x="563.5" y="358.6">地</tspan></text>
<text font-size="7.5" fill="#5a5a5a" text-anchor="middle" font-weight="normal" font-family="'Liberation Serif', serif" ><tspan x="563.5" y="383.6">下</tspan></text>
<text font-size="7.5" fill="#5a5a5a" text-anchor="middle" font-weight="normal" font-family="'Liberation Serif', serif" ><tspan x="563.5" y="406.6">停</tspan></text>
<text font-size="6.8" fill="#5a5a5a" text-anchor="middle" font-weight="normal" font-family="'Liberation Serif', serif" ><tspan x="551.6" y="468.0">學</tspan><tspan x="551.6" y="478.0">務</tspan><tspan x="551.6" y="488.0">處</tspan></text>
</g>
<rect x="515.4" y="360.0" width="11.6" height="90.4" fill="none" stroke="#0a0a0a" stroke-width="2.4" rx="0" />
<rect x="515.4" y="458.4" width="11.6" height="47.2" fill="none" stroke="#0a0a0a" stroke-width="2.4" rx="0" />
<rect x="542.0" y="355.2" width="17.8" height="53.4" fill="none" stroke="#0a0a0a" stroke-width="2.4" rx="0" />
<g transform="translate(268.9 520.8) rotate(-0.58)">
<line x1="0.0" y1="0.0" x2="608.8" y2="0.0" stroke="#787878" stroke-width="1.0" />
<line x1="0.0" y1="12.4" x2="608.8" y2="12.4" stroke="#787878" stroke-width="1.0" />
<line x1="0.0" y1="24.8" x2="608.8" y2="24.8" stroke="#787878" stroke-width="1.0" />
<line x1="0.0" y1="37.2" x2="608.8" y2="37.2" stroke="#787878" stroke-width="1.0" />
<line x1="0.0" y1="49.6" x2="608.8" y2="49.6" stroke="#787878" stroke-width="1.0" />
<line x1="0.0" y1="62.0" x2="608.8" y2="62.0" stroke="#787878" stroke-width="1.0" />
<line x1="0.0" y1="74.4" x2="608.8" y2="74.4" stroke="#787878" stroke-width="1.0" />
<line x1="0.0" y1="-2.0" x2="0.0" y2="145.4" stroke="#787878" stroke-width="1.0" />
<line x1="608.8" y1="0.0" x2="608.8" y2="74.4" stroke="#787878" stroke-width="1.0" />
<line x1="8.9" y1="0.0" x2="8.9" y2="62.0" stroke="#787878" stroke-width="1.0" />
<line x1="52.1" y1="0.0" x2="52.1" y2="62.0" stroke="#787878" stroke-width="1.0" />
<line x1="64.8" y1="0.0" x2="64.8" y2="62.0" stroke="#787878" stroke-width="1.0" />
<line x1="85.1" y1="0.0" x2="85.1" y2="62.0" stroke="#787878" stroke-width="1.0" />
<line x1="106.8" y1="0.0" x2="106.8" y2="62.0" stroke="#787878" stroke-width="1.0" />
<line x1="130.9" y1="0.0" x2="130.9" y2="62.0" stroke="#787878" stroke-width="1.0" />
<line x1="192.0" y1="0.0" x2="192.0" y2="12.4" stroke="#787878" stroke-width="1.0" />
<line x1="237.7" y1="0.0" x2="237.7" y2="62.0" stroke="#787878" stroke-width="1.0" />
<line x1="269.5" y1="12.4" x2="269.5" y2="24.8" stroke="#787878" stroke-width="1.0" />
<line x1="269.5" y1="37.2" x2="269.5" y2="62.0" stroke="#787878" stroke-width="1.0" />
<line x1="184.3" y1="37.2" x2="184.3" y2="49.6" stroke="#787878" stroke-width="1.0" />
<line x1="166.5" y1="49.6" x2="166.5" y2="62.0" stroke="#787878" stroke-width="1.0" />
<line x1="192.0" y1="49.6" x2="192.0" y2="62.0" stroke="#787878" stroke-width="1.0" />
<line x1="302.1" y1="0.0" x2="302.1" y2="62.0" stroke="#787878" stroke-width="1.0" />
<line x1="342.3" y1="0.0" x2="342.3" y2="37.2" stroke="#787878" stroke-width="1.0" />
<line x1="387.6" y1="0.0" x2="387.6" y2="37.2" stroke="#787878" stroke-width="1.0" />
<line x1="433.3" y1="0.0" x2="433.3" y2="62.0" stroke="#787878" stroke-width="1.0" />
<line x1="475.8" y1="0.0" x2="475.8" y2="62.0" stroke="#787878" stroke-width="1.0" />
<line x1="494.9" y1="0.0" x2="494.9" y2="62.0" stroke="#787878" stroke-width="1.0" />
<line x1="519.0" y1="0.0" x2="519.0" y2="62.0" stroke="#787878" stroke-width="1.0" />
<line x1="566.1" y1="0.0" x2="566.1" y2="24.8" stroke="#787878" stroke-width="1.0" />
<line x1="508.8" y1="0.0" x2="508.8" y2="12.4" stroke="#787878" stroke-width="1.0" />
<text x="30.5" y="9.7" font-size="8.4" fill="#5a5a5a" text-anchor="middle" font-weight="normal" font-family="'Liberation Serif', serif" letter-spacing="0.5">5D辦公室</text>
<text x="30.5" y="22.1" font-size="8.4" fill="#5a5a5a" text-anchor="middle" font-weight="normal" font-family="'Liberation Serif', serif" letter-spacing="0.5">4D辦公室</text>
<text x="30.5" y="34.5" font-size="8.4" fill="#5a5a5a" text-anchor="middle" font-weight="normal" font-family="'Liberation Serif', serif" letter-spacing="0.5">3D辦公室</text>
<text x="30.5" y="46.9" font-size="8.4" fill="#5a5a5a" text-anchor="middle" font-weight="normal" font-family="'Liberation Serif', serif" letter-spacing="0.5">2D辦公室</text>
<text x="30.5" y="59.3" font-size="5.2" fill="#5a5a5a" text-anchor="middle" font-weight="normal" font-family="'Liberation Serif', serif" >家長會・教師會</text>
<text x="75.0" y="9.7" font-size="7.8" fill="#5a5a5a" text-anchor="middle" font-weight="normal" font-family="'Liberation Serif', serif" >女廁</text>
<text x="96.0" y="9.7" font-size="7.8" fill="#5a5a5a" text-anchor="middle" font-weight="normal" font-family="'Liberation Serif', serif" >男廁</text>
<text x="118.9" y="9.7" font-size="7.8" fill="#5a5a5a" text-anchor="middle" font-weight="normal" font-family="'Liberation Serif', serif" >樓梯</text>
<text x="454.6" y="9.7" font-size="7.8" fill="#5a5a5a" text-anchor="middle" font-weight="normal" font-family="'Liberation Serif', serif" >樓　梯</text>
<text x="485.4" y="9.7" font-size="7.8" fill="#5a5a5a" text-anchor="middle" font-weight="normal" font-family="'Liberation Serif', serif" >電梯</text>
<text x="75.0" y="22.1" font-size="7.8" fill="#5a5a5a" text-anchor="middle" font-weight="normal" font-family="'Liberation Serif', serif" >女廁</text>
<text x="96.0" y="22.1" font-size="7.8" fill="#5a5a5a" text-anchor="middle" font-weight="normal" font-family="'Liberation Serif', serif" >男廁</text>
<text x="118.9" y="22.1" font-size="7.8" fill="#5a5a5a" text-anchor="middle" font-weight="normal" font-family="'Liberation Serif', serif" >樓梯</text>
<text x="454.6" y="22.1" font-size="7.8" fill="#5a5a5a" text-anchor="middle" font-weight="normal" font-family="'Liberation Serif', serif" >樓　梯</text>
<text x="485.4" y="22.1" font-size="7.8" fill="#5a5a5a" text-anchor="middle" font-weight="normal" font-family="'Liberation Serif', serif" >電梯</text>
<text x="75.0" y="34.5" font-size="7.8" fill="#5a5a5a" text-anchor="middle" font-weight="normal" font-family="'Liberation Serif', serif" >女廁</text>
<text x="96.0" y="34.5" font-size="7.8" fill="#5a5a5a" text-anchor="middle" font-weight="normal" font-family="'Liberation Serif', serif" >男廁</text>
<text x="118.9" y="34.5" font-size="7.8" fill="#5a5a5a" text-anchor="middle" font-weight="normal" font-family="'Liberation Serif', serif" >樓梯</text>
<text x="454.6" y="34.5" font-size="7.8" fill="#5a5a5a" text-anchor="middle" font-weight="normal" font-family="'Liberation Serif', serif" >樓　梯</text>
<text x="485.4" y="34.5" font-size="7.8" fill="#5a5a5a" text-anchor="middle" font-weight="normal" font-family="'Liberation Serif', serif" >電梯</text>
<text x="75.0" y="46.9" font-size="7.8" fill="#5a5a5a" text-anchor="middle" font-weight="normal" font-family="'Liberation Serif', serif" >女廁</text>
<text x="96.0" y="46.9" font-size="7.8" fill="#5a5a5a" text-anchor="middle" font-weight="normal" font-family="'Liberation Serif', serif" >男廁</text>
<text x="118.9" y="46.9" font-size="7.8" fill="#5a5a5a" text-anchor="middle" font-weight="normal" font-family="'Liberation Serif', serif" >樓梯</text>
<text x="454.6" y="46.9" font-size="7.8" fill="#5a5a5a" text-anchor="middle" font-weight="normal" font-family="'Liberation Serif', serif" >樓　梯</text>
<text x="485.4" y="46.9" font-size="7.8" fill="#5a5a5a" text-anchor="middle" font-weight="normal" font-family="'Liberation Serif', serif" >電梯</text>
<text x="75.0" y="59.3" font-size="7.8" fill="#5a5a5a" text-anchor="middle" font-weight="normal" font-family="'Liberation Serif', serif" >女廁</text>
<text x="96.0" y="59.3" font-size="7.8" fill="#5a5a5a" text-anchor="middle" font-weight="normal" font-family="'Liberation Serif', serif" >男廁</text>
<text x="118.9" y="59.3" font-size="7.8" fill="#5a5a5a" text-anchor="middle" font-weight="normal" font-family="'Liberation Serif', serif" >樓梯</text>
<text x="454.6" y="59.3" font-size="7.8" fill="#5a5a5a" text-anchor="middle" font-weight="normal" font-family="'Liberation Serif', serif" >樓　梯</text>
<text x="485.4" y="59.3" font-size="7.8" fill="#5a5a5a" text-anchor="middle" font-weight="normal" font-family="'Liberation Serif', serif" >電梯</text>
<text x="161.5" y="9.7" font-size="7.4" fill="#5a5a5a" text-anchor="middle" font-weight="normal" font-family="'Liberation Serif', serif" >國際禮儀教室</text>
<text x="214.9" y="9.7" font-size="7.6" fill="#5a5a5a" text-anchor="middle" font-weight="normal" font-family="'Liberation Serif', serif" >綜合教室</text>
<text x="269.9" y="9.7" font-size="7.2" fill="#5a5a5a" text-anchor="middle" font-weight="normal" font-family="'Liberation Serif', serif" >教室 　　合教室2</text>
<text x="322.2" y="9.7" font-size="7.4" fill="#5a5a5a" text-anchor="middle" font-weight="normal" font-family="'Liberation Serif', serif" >教室2</text>
<text x="365.0" y="9.7" font-size="7.4" fill="#5a5a5a" text-anchor="middle" font-weight="normal" font-family="'Liberation Serif', serif" >音樂教室2</text>
<text x="410.5" y="9.7" font-size="7.4" fill="#5a5a5a" text-anchor="middle" font-weight="normal" font-family="'Liberation Serif', serif" >音樂教室1</text>
<text x="184.3" y="22.1" font-size="8" fill="#5a5a5a" text-anchor="middle" font-weight="normal" font-family="'Liberation Serif', serif" >生物實驗室</text>
<text x="253.6" y="22.1" font-size="5.6" fill="#5a5a5a" text-anchor="middle" font-weight="normal" font-family="'Liberation Serif', serif" >藝文教室2</text>
<text x="285.8" y="22.1" font-size="5.6" fill="#5a5a5a" text-anchor="middle" font-weight="normal" font-family="'Liberation Serif', serif" >美術辦公室</text>
<text x="322.2" y="22.1" font-size="7.6" fill="#5a5a5a" text-anchor="middle" font-weight="normal" font-family="'Liberation Serif', serif" >電腦教室3</text>
<text x="365.0" y="22.1" font-size="7.8" fill="#5a5a5a" text-anchor="middle" font-weight="normal" font-family="'Liberation Serif', serif" >網管中心</text>
<text x="410.5" y="22.1" font-size="6" fill="#5a5a5a" text-anchor="middle" font-weight="normal" font-family="'Liberation Serif', serif" >多功能語言教室</text>
<text x="184.3" y="34.5" font-size="8" fill="#5a5a5a" text-anchor="middle" font-weight="normal" font-family="'Liberation Serif', serif" >化學實驗室</text>
<text x="269.9" y="34.5" font-size="8" fill="#5a5a5a" text-anchor="middle" font-weight="normal" font-family="'Liberation Serif', serif" >物理實驗室</text>
<text x="322.2" y="34.5" font-size="7" fill="#5a5a5a" text-anchor="middle" font-weight="normal" font-family="'Liberation Serif', serif" >雲端教室</text>
<text x="365.0" y="34.5" font-size="6.6" fill="#5a5a5a" text-anchor="middle" font-weight="normal" font-family="'Liberation Serif', serif" >教學資源中心</text>
<text x="410.5" y="34.5" font-size="7" fill="#5a5a5a" text-anchor="middle" font-weight="normal" font-family="'Liberation Serif', serif" >專任辦公室</text>
<text x="157.6" y="46.9" font-size="8" fill="#5a5a5a" text-anchor="middle" font-weight="normal" font-family="'Liberation Serif', serif" >圖輔室2</text>
<text x="211.0" y="46.9" font-size="7.2" fill="#5a5a5a" text-anchor="middle" font-weight="normal" font-family="'Liberation Serif', serif" >學習中心教室</text>
<text x="253.6" y="46.9" font-size="7.4" fill="#5a5a5a" text-anchor="middle" font-weight="normal" font-family="'Liberation Serif', serif" >圖輔室</text>
<text x="285.8" y="46.9" font-size="7.4" fill="#5a5a5a" text-anchor="middle" font-weight="normal" font-family="'Liberation Serif', serif" >輔導室</text>
<text x="148.7" y="59.3" font-size="7.6" fill="#5a5a5a" text-anchor="middle" font-weight="normal" font-family="'Liberation Serif', serif" >會計室</text>
<text x="179.2" y="59.3" font-size="7.4" fill="#5a5a5a" text-anchor="middle" font-weight="normal" font-family="'Liberation Serif', serif" >人事室</text>
<text x="214.9" y="59.3" font-size="7.8" fill="#5a5a5a" text-anchor="middle" font-weight="normal" font-family="'Liberation Serif', serif" >總務處</text>
<text x="253.6" y="59.3" font-size="5.4" fill="#5a5a5a" text-anchor="middle" font-weight="normal" font-family="'Liberation Serif', serif" >總務 倉庫</text>
<text x="285.8" y="59.3" font-size="5.8" fill="#5a5a5a" text-anchor="middle" font-weight="normal" font-family="'Liberation Serif', serif" >健康中心</text>
<text x="334.1" y="55.1" font-size="7" fill="#777" text-anchor="middle" font-weight="normal" font-family="'Liberation Serif', serif" >大</text>
<text x="364.1" y="55.1" font-size="7" fill="#777" text-anchor="middle" font-weight="normal" font-family="'Liberation Serif', serif" >門</text>
<text x="398.1" y="55.1" font-size="7" fill="#777" text-anchor="middle" font-weight="normal" font-family="'Liberation Serif', serif" >穿</text>
<text x="506.9" y="9.7" font-size="5" fill="#5a5a5a" text-anchor="middle" font-weight="normal" font-family="'Liberation Serif', serif" >　 教室</text>
<text x="506.9" y="22.1" font-size="4.8" fill="#5a5a5a" text-anchor="middle" font-weight="normal" font-family="'Liberation Serif', serif" >分析 教室</text>
<text x="506.9" y="34.5" font-size="6" fill="#5a5a5a" text-anchor="middle" font-weight="normal" font-family="'Liberation Serif', serif" >教具室</text>
<text x="506.9" y="46.9" font-size="6" fill="#5a5a5a" text-anchor="middle" font-weight="normal" font-family="'Liberation Serif', serif" >儲藏室</text>
<text x="506.9" y="59.3" font-size="5.6" fill="#5a5a5a" text-anchor="middle" font-weight="normal" font-family="'Liberation Serif', serif" >器材室</text>
<text x="542.6" y="9.7" font-size="8" fill="#5a5a5a" text-anchor="middle" font-weight="normal" font-family="'Liberation Serif', serif" >表藝教室1</text>
<text x="587.4" y="9.7" font-size="7.4" fill="#5a5a5a" text-anchor="middle" font-weight="normal" font-family="'Liberation Serif', serif" >管樂團練室</text>
<text x="542.6" y="22.1" font-size="8" fill="#5a5a5a" text-anchor="middle" font-weight="normal" font-family="'Liberation Serif', serif" >電腦教室2</text>
<text x="587.4" y="22.1" font-size="7.8" fill="#5a5a5a" text-anchor="middle" font-weight="normal" font-family="'Liberation Serif', serif" >電腦教室1</text>
<text x="563.9" y="34.5" font-size="8" fill="#5a5a5a" text-anchor="middle" font-weight="normal" font-family="'Liberation Serif', serif" >圖　書　室</text>
<text x="563.9" y="46.9" font-size="8" fill="#5a5a5a" text-anchor="middle" font-weight="normal" font-family="'Liberation Serif', serif" >會　議　室</text>
<text x="563.9" y="59.3" font-size="8" fill="#5a5a5a" text-anchor="middle" font-weight="normal" font-family="'Liberation Serif', serif" >視聽教室</text>
<text x="123.1" y="71.6" font-size="8" fill="#5a5a5a" text-anchor="middle" font-weight="normal" font-family="'Liberation Serif', serif" >地</text>
<text x="213.6" y="71.6" font-size="8" fill="#5a5a5a" text-anchor="middle" font-weight="normal" font-family="'Liberation Serif', serif" >下</text>
<text x="304.1" y="71.6" font-size="8" fill="#5a5a5a" text-anchor="middle" font-weight="normal" font-family="'Liberation Serif', serif" >停</text>
<text x="393.1" y="71.6" font-size="8" fill="#5a5a5a" text-anchor="middle" font-weight="normal" font-family="'Liberation Serif', serif" >車</text>
<text x="483.1" y="71.6" font-size="8" fill="#5a5a5a" text-anchor="middle" font-weight="normal" font-family="'Liberation Serif', serif" >場</text>
<text x="613.0" y="10.5" font-size="9" fill="#666" text-anchor="start" font-weight="normal" font-family="'Liberation Serif', serif" >5樓</text>
<text x="613.0" y="22.9" font-size="9" fill="#666" text-anchor="start" font-weight="normal" font-family="'Liberation Serif', serif" >4樓</text>
<text x="613.0" y="35.3" font-size="9" fill="#666" text-anchor="start" font-weight="normal" font-family="'Liberation Serif', serif" >3樓</text>
<text x="613.0" y="47.7" font-size="9" fill="#666" text-anchor="start" font-weight="normal" font-family="'Liberation Serif', serif" >2樓</text>
<text x="613.0" y="60.1" font-size="9" fill="#666" text-anchor="start" font-weight="normal" font-family="'Liberation Serif', serif" >1樓</text>
<text x="612.5" y="72.2" font-size="7.4" fill="#666" text-anchor="start" font-weight="normal" font-family="'Liberation Serif', serif" >地下室</text>
</g>
<line x1="198.0" y1="684.8" x2="416.0" y2="682.2" stroke="#787878" stroke-width="1.0" />
<line x1="623.0" y1="679.0" x2="888.0" y2="675.0" stroke="#787878" stroke-width="1.0" />
<line x1="268.0" y1="595.4" x2="212.0" y2="596.0" stroke="#787878" stroke-width="1.0" />
<text x="596.0" y="673.0" font-size="7.5" fill="#777" text-anchor="middle" font-weight="normal" font-family="'Liberation Serif', serif" >校</text>
<text x="645.0" y="671.5" font-size="7.5" fill="#777" text-anchor="middle" font-weight="normal" font-family="'Liberation Serif', serif" >門</text>
<g transform="rotate(-0.6 730 460)">
<line x1="700.5" y1="404.8" x2="700.5" y2="514.2" stroke="#787878" stroke-width="1.0" />
<line x1="711.7" y1="404.8" x2="711.7" y2="514.2" stroke="#787878" stroke-width="1.0" />
<line x1="722.2" y1="404.8" x2="722.2" y2="514.2" stroke="#787878" stroke-width="1.0" />
<line x1="732.8" y1="404.8" x2="732.8" y2="514.2" stroke="#787878" stroke-width="1.0" />
<line x1="743.3" y1="404.8" x2="743.3" y2="514.2" stroke="#787878" stroke-width="1.0" />
<line x1="754.2" y1="407.8" x2="754.2" y2="514.2" stroke="#787878" stroke-width="1.0" />
<line x1="764.4" y1="407.8" x2="764.4" y2="514.2" stroke="#787878" stroke-width="1.0" />
<line x1="700.5" y1="404.8" x2="743.3" y2="404.8" stroke="#787878" stroke-width="1.0" />
<line x1="743.3" y1="407.8" x2="764.4" y2="407.8" stroke="#787878" stroke-width="1.0" />
<line x1="700.5" y1="459.0" x2="754.2" y2="459.0" stroke="#787878" stroke-width="1.0" />
<line x1="700.5" y1="514.2" x2="764.4" y2="514.2" stroke="#787878" stroke-width="1.0" />
<text font-size="10.5" fill="#777" text-anchor="middle" font-weight="normal" font-family="'Liberation Serif', serif" ><tspan x="706.1" y="417.2">7</tspan><tspan x="706.1" y="429.7">0</tspan><tspan x="706.1" y="442.2">9</tspan></text>
<text font-size="10.5" fill="#777" text-anchor="middle" font-weight="normal" font-family="'Liberation Serif', serif" ><tspan x="717.0" y="417.2">7</tspan><tspan x="717.0" y="429.7">0</tspan><tspan x="717.0" y="442.2">5</tspan></text>
<text font-size="10.5" fill="#777" text-anchor="middle" font-weight="normal" font-family="'Liberation Serif', serif" ><tspan x="727.5" y="417.2">7</tspan><tspan x="727.5" y="429.7">0</tspan><tspan x="727.5" y="442.2">1</tspan></text>
<text font-size="7.2" fill="#5a5a5a" text-anchor="middle" font-weight="normal" font-family="'Liberation Serif', serif" ><tspan x="738.0" y="413.3">多</tspan><tspan x="738.0" y="422.9">功</tspan><tspan x="738.0" y="432.5">能</tspan><tspan x="738.0" y="442.1">教</tspan><tspan x="738.0" y="451.7">室</tspan></text>
<text font-size="7.4" fill="#5a5a5a" text-anchor="middle" font-weight="normal" font-family="'Liberation Serif', serif" ><tspan x="748.8" y="415.5">展</tspan><tspan x="748.8" y="426.5">覽</tspan><tspan x="748.8" y="437.5">室</tspan></text>
<text font-size="6.5" fill="#5a5a5a" text-anchor="middle" font-weight="normal" font-family="'Liberation Serif', serif" ><tspan x="759.3" y="417.7">童</tspan></text>
<text font-size="6.5" fill="#5a5a5a" text-anchor="middle" font-weight="normal" font-family="'Liberation Serif', serif" ><tspan x="759.3" y="437.7">劍</tspan></text>
<text font-size="6.5" fill="#5a5a5a" text-anchor="middle" font-weight="normal" font-family="'Liberation Serif', serif" ><tspan x="759.3" y="479.7">室</tspan></text>
<text font-size="6.6" fill="#5a5a5a" text-anchor="middle" font-weight="normal" font-family="'Liberation Serif', serif" ><tspan x="706.1" y="465.8">多</tspan><tspan x="706.1" y="473.4">元</tspan><tspan x="706.1" y="481.0">學</tspan><tspan x="706.1" y="488.6">習</tspan><tspan x="706.1" y="496.2">教</tspan><tspan x="706.1" y="503.8">室</tspan><tspan x="706.1" y="511.4">3</tspan></text>
<text font-size="6.6" fill="#5a5a5a" text-anchor="middle" font-weight="normal" font-family="'Liberation Serif', serif" ><tspan x="717.0" y="465.8">多</tspan><tspan x="717.0" y="473.4">元</tspan><tspan x="717.0" y="481.0">學</tspan><tspan x="717.0" y="488.6">習</tspan><tspan x="717.0" y="496.2">教</tspan><tspan x="717.0" y="503.8">室</tspan><tspan x="717.0" y="511.4">2</tspan></text>
<text font-size="6.6" fill="#5a5a5a" text-anchor="middle" font-weight="normal" font-family="'Liberation Serif', serif" ><tspan x="727.5" y="465.8">多</tspan><tspan x="727.5" y="473.4">元</tspan><tspan x="727.5" y="481.0">學</tspan><tspan x="727.5" y="488.6">習</tspan><tspan x="727.5" y="496.2">教</tspan><tspan x="727.5" y="503.8">室</tspan><tspan x="727.5" y="511.4">1</tspan></text>
<text font-size="7.4" fill="#5a5a5a" text-anchor="middle" font-weight="normal" font-family="'Liberation Serif', serif" ><tspan x="738.0" y="467.5">會</tspan><tspan x="738.0" y="479.0">議</tspan><tspan x="738.0" y="490.5">室</tspan><tspan x="738.0" y="502.0">2</tspan></text>
<text font-size="5.6" fill="#5a5a5a" text-anchor="middle" font-weight="normal" font-family="'Liberation Serif', serif" ><tspan x="748.8" y="465.9">家</tspan><tspan x="748.8" y="474.1">長</tspan><tspan x="748.8" y="482.3">會</tspan><tspan x="748.8" y="490.5">辦</tspan><tspan x="748.8" y="498.7">公</tspan><tspan x="748.8" y="506.9">室</tspan></text>
<line x1="699.0" y1="383.7" x2="700.5" y2="404.8" stroke="#787878" stroke-width="1.0" />
<line x1="745.1" y1="386.7" x2="744.2" y2="404.8" stroke="#787878" stroke-width="1.0" />
<text x="710.0" y="390.5" font-size="7.5" fill="#5a5a5a" text-anchor="middle" font-weight="normal" font-family="'Liberation Serif', serif" >辦</text>
<text x="722.0" y="390.5" font-size="7.5" fill="#5a5a5a" text-anchor="middle" font-weight="normal" font-family="'Liberation Serif', serif" >公</text>
<text x="737.0" y="390.5" font-size="7.5" fill="#5a5a5a" text-anchor="middle" font-weight="normal" font-family="'Liberation Serif', serif" >室</text>
</g>
<rect x="700.6" y="405.0" width="42.6" height="109.0" fill="none" stroke="#0a0a0a" stroke-width="2.6" rx="0" />
<text x="0.0" y="0.0" font-size="1" fill="#5a5a5a" text-anchor="middle" font-weight="normal" font-family="'Liberation Serif', serif" ></text>
<g transform="translate(669.6 254.0) rotate(-11.6)">
<line x1="0.0" y1="-35.3" x2="0.0" y2="6.0" stroke="#787878" stroke-width="1.0" />
<line x1="10.6" y1="-35.3" x2="10.6" y2="6.0" stroke="#787878" stroke-width="1.0" />
<line x1="21.2" y1="-35.3" x2="21.2" y2="6.0" stroke="#787878" stroke-width="1.0" />
<line x1="31.8" y1="-35.3" x2="31.8" y2="6.0" stroke="#787878" stroke-width="1.0" />
<line x1="42.4" y1="-35.3" x2="42.4" y2="6.0" stroke="#787878" stroke-width="1.0" />
<line x1="53.0" y1="-35.3" x2="53.0" y2="6.0" stroke="#787878" stroke-width="1.0" />
<line x1="62.6" y1="-35.3" x2="62.6" y2="6.0" stroke="#787878" stroke-width="1.0" />
<line x1="0.0" y1="-35.3" x2="62.6" y2="-35.3" stroke="#787878" stroke-width="1.0" />
<line x1="0.0" y1="-19.3" x2="62.6" y2="-19.3" stroke="#787878" stroke-width="1.0" />
<line x1="0.0" y1="-9.6" x2="62.6" y2="-9.6" stroke="#787878" stroke-width="1.0" />
<line x1="0.0" y1="0.0" x2="62.6" y2="0.0" stroke="#787878" stroke-width="1.0" />
<text x="5.0" y="-28.0" font-size="6.4" fill="#777" text-anchor="middle" font-weight="normal" font-family="'Liberation Serif', serif" >5</text>
<text x="6.0" y="-21.0" font-size="4.6" fill="#888" text-anchor="middle" font-weight="normal" font-family="'Liberation Serif', serif" >樓</text>
<text x="5.3" y="-11.8" font-size="4.4" fill="#777" text-anchor="middle" font-weight="normal" font-family="'Liberation Serif', serif" >男廁</text>
<text x="5.3" y="-2.2" font-size="4.4" fill="#777" text-anchor="middle" font-weight="normal" font-family="'Liberation Serif', serif" >女廁</text>
<text x="15.6" y="-28.0" font-size="6.4" fill="#777" text-anchor="middle" font-weight="normal" font-family="'Liberation Serif', serif" >4</text>
<text x="16.6" y="-21.0" font-size="4.6" fill="#888" text-anchor="middle" font-weight="normal" font-family="'Liberation Serif', serif" >樓</text>
<text x="15.9" y="-11.8" font-size="4.4" fill="#777" text-anchor="middle" font-weight="normal" font-family="'Liberation Serif', serif" >男廁</text>
<text x="15.9" y="-2.2" font-size="4.4" fill="#777" text-anchor="middle" font-weight="normal" font-family="'Liberation Serif', serif" >女廁</text>
<text x="26.2" y="-28.0" font-size="6.4" fill="#777" text-anchor="middle" font-weight="normal" font-family="'Liberation Serif', serif" >3</text>
<text x="27.2" y="-21.0" font-size="4.6" fill="#888" text-anchor="middle" font-weight="normal" font-family="'Liberation Serif', serif" >樓</text>
<text x="26.5" y="-11.8" font-size="4.4" fill="#777" text-anchor="middle" font-weight="normal" font-family="'Liberation Serif', serif" >男廁</text>
<text x="26.5" y="-2.2" font-size="4.4" fill="#777" text-anchor="middle" font-weight="normal" font-family="'Liberation Serif', serif" >女廁</text>
<text x="36.8" y="-28.0" font-size="6.4" fill="#777" text-anchor="middle" font-weight="normal" font-family="'Liberation Serif', serif" >2</text>
<text x="37.8" y="-21.0" font-size="4.6" fill="#888" text-anchor="middle" font-weight="normal" font-family="'Liberation Serif', serif" >樓</text>
<text x="37.1" y="-11.8" font-size="4.4" fill="#777" text-anchor="middle" font-weight="normal" font-family="'Liberation Serif', serif" >男廁</text>
<text x="37.1" y="-2.2" font-size="4.4" fill="#777" text-anchor="middle" font-weight="normal" font-family="'Liberation Serif', serif" >女廁</text>
<text x="47.4" y="-28.0" font-size="6.4" fill="#777" text-anchor="middle" font-weight="normal" font-family="'Liberation Serif', serif" >1</text>
<text x="48.4" y="-21.0" font-size="4.6" fill="#888" text-anchor="middle" font-weight="normal" font-family="'Liberation Serif', serif" >樓</text>
<text x="47.7" y="-11.8" font-size="4.4" fill="#777" text-anchor="middle" font-weight="normal" font-family="'Liberation Serif', serif" >男廁</text>
<text x="47.7" y="-2.2" font-size="4.4" fill="#777" text-anchor="middle" font-weight="normal" font-family="'Liberation Serif', serif" >女廁</text>
<text x="58.0" y="-28.0" font-size="5" fill="#777" text-anchor="middle" font-weight="normal" font-family="'Liberation Serif', serif" >樓</text>
<text x="58.0" y="-21.5" font-size="5" fill="#777" text-anchor="middle" font-weight="normal" font-family="'Liberation Serif', serif" >梯</text>
<text x="69.0" y="-22.0" font-size="4.4" fill="#888" text-anchor="middle" font-weight="normal" font-family="'Liberation Serif', serif" >走廊</text>
<line x1="0.0" y1="0.0" x2="0.0" y2="131.8" stroke="#787878" stroke-width="1.0" />
<line x1="12.0" y1="0.0" x2="12.0" y2="131.8" stroke="#787878" stroke-width="1.0" />
<line x1="24.0" y1="0.0" x2="24.0" y2="131.8" stroke="#787878" stroke-width="1.0" />
<line x1="36.0" y1="0.0" x2="36.0" y2="131.8" stroke="#787878" stroke-width="1.0" />
<line x1="48.1" y1="0.0" x2="48.1" y2="131.8" stroke="#787878" stroke-width="1.0" />
<line x1="0.0" y1="131.8" x2="0.0" y2="152.0" stroke="#787878" stroke-width="1.0" />
<line x1="48.1" y1="131.8" x2="49.0" y2="152.0" stroke="#787878" stroke-width="1.0" />
<line x1="56.4" y1="6.0" x2="56.4" y2="128.0" stroke="#787878" stroke-width="1.0" />
<line x1="65.0" y1="-20.0" x2="65.0" y2="128.0" stroke="#787878" stroke-width="1.0" />
<line x1="62.6" y1="-35.3" x2="65.0" y2="-20.0" stroke="#787878" stroke-width="1.0" />
<line x1="0.0" y1="52.0" x2="48.1" y2="52.0" stroke="#787878" stroke-width="1.0" />
<line x1="0.0" y1="66.0" x2="48.1" y2="66.0" stroke="#787878" stroke-width="1.0" />
<line x1="0.0" y1="103.0" x2="48.1" y2="103.0" stroke="#787878" stroke-width="1.0" />
<line x1="0.0" y1="131.8" x2="48.1" y2="131.8" stroke="#787878" stroke-width="1.0" />
<line x1="48.1" y1="44.0" x2="65.0" y2="44.0" stroke="#787878" stroke-width="1.0" />
<line x1="48.1" y1="80.0" x2="65.0" y2="80.0" stroke="#787878" stroke-width="1.0" />
<line x1="48.1" y1="128.0" x2="65.0" y2="128.0" stroke="#787878" stroke-width="1.0" />
<text font-size="6.4" fill="#5a5a5a" text-anchor="middle" font-weight="normal" font-family="'Liberation Serif', serif" ><tspan x="6.0" y="8.6">書</tspan><tspan x="6.0" y="17.0">法</tspan><tspan x="6.0" y="25.4">教</tspan><tspan x="6.0" y="33.8">室</tspan></text>
<text font-size="8" fill="#777" text-anchor="middle" font-weight="normal" font-family="'Liberation Serif', serif" ><tspan x="18.0" y="12.0">7</tspan><tspan x="18.0" y="22.5">0</tspan><tspan x="18.0" y="33.0">8</tspan></text>
<text font-size="6.2" fill="#5a5a5a" text-anchor="middle" font-weight="normal" font-family="'Liberation Serif', serif" ><tspan x="30.0" y="8.5">特</tspan><tspan x="30.0" y="16.9">教</tspan><tspan x="30.0" y="25.3">辦</tspan><tspan x="30.0" y="33.7">公</tspan><tspan x="30.0" y="42.1">室</tspan></text>
<text font-size="6.2" fill="#5a5a5a" text-anchor="middle" font-weight="normal" font-family="'Liberation Serif', serif" ><tspan x="42.0" y="13.5">教</tspan><tspan x="42.0" y="22.5">室</tspan></text>
<text x="8.0" y="62.5" font-size="6.6" fill="#5a5a5a" text-anchor="middle" font-weight="normal" font-family="'Liberation Serif', serif" >月</text>
<text x="26.0" y="62.5" font-size="6.6" fill="#5a5a5a" text-anchor="middle" font-weight="normal" font-family="'Liberation Serif', serif" >室</text>
<text font-size="8" fill="#777" text-anchor="middle" font-weight="normal" font-family="'Liberation Serif', serif" ><tspan x="6.0" y="77.0">7</tspan><tspan x="6.0" y="87.0">1</tspan><tspan x="6.0" y="97.0">1</tspan></text>
<text font-size="8" fill="#777" text-anchor="middle" font-weight="normal" font-family="'Liberation Serif', serif" ><tspan x="18.0" y="77.0">7</tspan><tspan x="18.0" y="87.0">0</tspan><tspan x="18.0" y="97.0">7</tspan></text>
<text font-size="8" fill="#777" text-anchor="middle" font-weight="normal" font-family="'Liberation Serif', serif" ><tspan x="30.0" y="77.0">7</tspan><tspan x="30.0" y="87.0">0</tspan><tspan x="30.0" y="97.0">3</tspan></text>
<text font-size="7.6" fill="#777" text-anchor="middle" font-weight="normal" font-family="'Liberation Serif', serif" ><tspan x="6.0" y="111.7">7</tspan><tspan x="6.0" y="120.1">1</tspan><tspan x="6.0" y="128.5">0</tspan></text>
<text font-size="7.6" fill="#777" text-anchor="middle" font-weight="normal" font-family="'Liberation Serif', serif" ><tspan x="18.0" y="111.7">7</tspan><tspan x="18.0" y="120.1">0</tspan><tspan x="18.0" y="128.5">6</tspan></text>
<text font-size="7.6" fill="#777" text-anchor="middle" font-weight="normal" font-family="'Liberation Serif', serif" ><tspan x="30.0" y="111.7">7</tspan><tspan x="30.0" y="120.1">0</tspan><tspan x="30.0" y="128.5">2</tspan></text>
<text font-size="6.4" fill="#5a5a5a" text-anchor="middle" font-weight="normal" font-family="'Liberation Serif', serif" ><tspan x="42.0" y="62.6">學</tspan><tspan x="42.0" y="79.6">習</tspan><tspan x="42.0" y="96.6">中</tspan><tspan x="42.0" y="113.6">心</tspan></text>
<text font-size="5.6" fill="#5a5a5a" text-anchor="middle" font-weight="normal" font-family="'Liberation Serif', serif" ><tspan x="52.2" y="12.9">總</tspan><tspan x="52.2" y="22.3">務</tspan><tspan x="52.2" y="31.7">處</tspan></text>
<text font-size="5.4" fill="#5a5a5a" text-anchor="middle" font-weight="normal" font-family="'Liberation Serif', serif" ><tspan x="60.6" y="14.8">體</tspan><tspan x="60.6" y="23.8">育</tspan><tspan x="60.6" y="32.8">組</tspan></text>
<text font-size="6" fill="#5a5a5a" text-anchor="middle" font-weight="normal" font-family="'Liberation Serif', serif" ><tspan x="52.2" y="65.3">合</tspan><tspan x="52.2" y="82.3">作</tspan><tspan x="52.2" y="99.3">社</tspan></text>
<text font-size="5.6" fill="#5a5a5a" text-anchor="middle" font-weight="normal" font-family="'Liberation Serif', serif" ><tspan x="60.6" y="74.9">倉</tspan><tspan x="60.6" y="91.9">庫</tspan></text>
<rect x="0.0" y="0.0" width="48.2" height="131.8" fill="none" stroke="#0a0a0a" stroke-width="2.4" rx="0" />
</g>
<text x="792.4" y="319.4" font-size="11.4" fill="#666" text-anchor="middle" font-weight="normal" font-family="'Liberation Serif', serif" transform="rotate(-9 792.4 315.0)">勤</text>
<text x="794.4" y="331.0" font-size="11.4" fill="#666" text-anchor="middle" font-weight="normal" font-family="'Liberation Serif', serif" transform="rotate(-9 794.4 326.6)">學</text>
<text x="796.4" y="342.6" font-size="11.4" fill="#666" text-anchor="middle" font-weight="normal" font-family="'Liberation Serif', serif" transform="rotate(-9 796.4 338.2)">樓</text>
<text x="795.0" y="357.0" font-size="7.4" fill="#777" text-anchor="middle" font-weight="normal" font-family="'Liberation Serif', serif" transform="rotate(82 795 357)" letter-spacing="0.6">(B棟)</text>
<line x1="556.0" y1="326.5" x2="674.0" y2="284.5" stroke="#787878" stroke-width="1.0" />
<line x1="566.5" y1="330.5" x2="676.0" y2="291.5" stroke="#787878" stroke-width="1.0" />
<polyline points="247.5,535.6 373.2,535.6" fill="none" stroke="#1b6d1f" stroke-width="3.4" stroke-dasharray="10 3.6"/>
<polygon points="380.8,535.6 371.3,540.8 371.3,530.4" fill="#1b6d1f"/>
<polyline points="382.0,535.6 382.0,557.4" fill="none" stroke="#1b6d1f" stroke-width="3.4" stroke-dasharray="10 3.6"/>
<polygon points="382.0,565.0 376.8,555.5 387.2,555.5" fill="#1b6d1f"/>
<polyline points="382.0,568.6 870.0,566.8" fill="none" stroke="#1b6d1f" stroke-width="3.4" stroke-dasharray="10 3.6"/>
<polygon points="877.6,566.8 868.1,572.1 868.1,561.6" fill="#1b6d1f"/>
<polyline points="376.0,519.6 706.8,519.4" fill="none" stroke="#1b6d1f" stroke-width="3.4" stroke-dasharray="10 3.6"/>
<polygon points="714.4,519.4 704.9,524.6 704.9,514.2" fill="#1b6d1f"/>
<polyline points="721.4,519.4 721.4,555.4" fill="none" stroke="#1b6d1f" stroke-width="3.4" stroke-dasharray="10 3.6"/>
<polygon points="721.4,563.0 716.2,553.5 726.6,553.5" fill="#1b6d1f"/>
<polyline points="355.2,306.0 355.2,296.2" fill="none" stroke="#1b6d1f" stroke-width="3.4" stroke-dasharray="10 3.6"/>
<polygon points="355.2,288.6 360.4,298.1 350.0,298.1" fill="#1b6d1f"/>
<polyline points="355.2,293.8 453.4,293.8" fill="none" stroke="#1b6d1f" stroke-width="3.4" stroke-dasharray="10 3.6"/>
<polygon points="461.0,293.8 451.5,299.0 451.5,288.6" fill="#1b6d1f"/>
<polyline points="460.6,296.0 460.0,318.8" fill="none" stroke="#1b6d1f" stroke-width="3.4" stroke-dasharray="10 3.6"/>
<polygon points="459.8,326.4 454.8,316.8 465.3,317.0" fill="#1b6d1f"/>
<polyline points="476.0,321.4 463.0,321.4" fill="none" stroke="#1b6d1f" stroke-width="3.4" stroke-dasharray="10 3.6"/>
<polyline points="507.7,321.3 553.9,321.0" fill="none" stroke="#1b6d1f" stroke-width="3.4" stroke-dasharray="10 3.6"/>
<polygon points="561.5,321.0 552.0,326.3 552.0,315.8" fill="#1b6d1f"/>
<polyline points="527.2,359.0 527.2,317.2" fill="none" stroke="#1b6d1f" stroke-width="3.4" stroke-dasharray="10 3.6"/>
<polygon points="527.2,309.6 532.4,319.1 522.0,319.1" fill="#1b6d1f"/>
<polyline points="551.9,355.0 551.9,332.0" fill="none" stroke="#1b6d1f" stroke-width="3.4" stroke-dasharray="10 3.6"/>
<polygon points="551.9,324.4 557.1,333.9 546.7,333.9" fill="#1b6d1f"/>
<polyline points="527.2,314.0 580.0,303.7 690.9,283.9" fill="none" stroke="#1b6d1f" stroke-width="3.4" stroke-dasharray="10 3.6"/>
<polygon points="698.4,282.6 690.0,289.4 688.1,279.1" fill="#1b6d1f"/>
<polyline points="562.0,320.0 580.0,315.2 678.0,289.4 716.5,284.4" fill="none" stroke="#1b6d1f" stroke-width="3.4" stroke-dasharray="10 3.6"/>
<polygon points="724.0,283.4 715.3,289.8 713.9,279.4" fill="#1b6d1f"/>
<polyline points="696.5,281.5 686.6,230.8" fill="none" stroke="#1b6d1f" stroke-width="3.4" stroke-dasharray="10 3.6"/>
<polygon points="685.2,223.3 692.1,231.6 681.9,233.6" fill="#1b6d1f"/>
<polyline points="685.4,221.5 706.8,216.8" fill="none" stroke="#1b6d1f" stroke-width="3.4" stroke-dasharray="10 3.6"/>
<polygon points="714.2,215.2 706.0,222.3 703.8,212.1" fill="#1b6d1f"/>
<polyline points="719.6,217.0 734.4,286.6" fill="none" stroke="#1b6d1f" stroke-width="3.4" stroke-dasharray="10 3.6"/>
<polygon points="736.0,294.0 728.9,285.8 739.1,283.6" fill="#1b6d1f"/>
<polyline points="702.6,280.6 698.1,260.8" fill="none" stroke="#1b6d1f" stroke-width="3.4" stroke-dasharray="10 3.6"/>
<polygon points="696.4,253.4 703.6,261.5 693.4,263.8" fill="#1b6d1f"/>
<polyline points="742.6,374.0 723.6,284.0" fill="none" stroke="#1b6d1f" stroke-width="3.4" stroke-dasharray="10 3.6"/>
<polyline points="726.4,404.0 723.4,385.1" fill="none" stroke="#1b6d1f" stroke-width="3.4" stroke-dasharray="10 3.6"/>
<polygon points="722.2,377.6 728.9,386.2 718.5,387.8" fill="#1b6d1f"/>
<line x1="738.6" y1="293.2" x2="945.5" y2="341.7" stroke="#d9181e" stroke-width="3.0" />
<polygon points="953.7,343.6 942.5,345.3 944.4,337.1" fill="#d9181e"/>
<line x1="764.7" y1="389.0" x2="945.3" y2="407.7" stroke="#d9181e" stroke-width="3.0" />
<polygon points="953.7,408.6 942.8,411.7 943.7,403.3" fill="#d9181e"/>
<line x1="877.6" y1="566.5" x2="948.5" y2="501.1" stroke="#d9181e" stroke-width="3.0" />
<polygon points="954.7,495.4 949.8,505.6 944.1,499.4" fill="#d9181e"/>
<line x1="924.1" y1="591.0" x2="954.2" y2="523.8" stroke="#d9181e" stroke-width="3.0" />
<polygon points="957.6,516.1 957.1,527.4 949.5,524.0" fill="#d9181e"/>
<line x1="1002.5" y1="606.0" x2="987.2" y2="520.5" stroke="#d9181e" stroke-width="3.0" />
<polygon points="985.7,512.2 991.7,521.8 983.4,523.3" fill="#d9181e"/>
<line x1="802.5" y1="610.5" x2="772.9" y2="610.5" stroke="#d9181e" stroke-width="2.2" />
<polygon points="766.5,610.5 774.5,607.3 774.5,613.7" fill="#d9181e"/>
<use href="#ext" x="367.1" y="331.6"/>
<use href="#ext" x="394.9" y="465"/>
<use href="#ext" x="740.4" y="354"/>
<use href="#ext" x="858.6" y="537.2"/>
<use href="#hyd" x="340.4" y="505.6"/>
<use href="#hyd" transform="translate(476.2 315.4) scale(0.985 0.92)"/>
<use href="#hyd" transform="translate(733.2 377.4) scale(0.985 0.96)"/>
<use href="#hyd" transform="translate(231.4 582.2) scale(0.706 0.66)"/>
<path d="M377.6,493 L386.9,482.2 L396.3,493 H393.6 V503.8 H380.4 V493 Z" fill="#4a6fa8"/>
<text x="387.0" y="501.0" font-size="7.5" fill="#f4c8c8" text-anchor="middle" font-weight="bold" font-family="'Liberation Sans', sans-serif" >糧</text>
<circle cx="550.8" cy="428.7" r="15.1" fill="#fff133" stroke="#222" stroke-width="1.20"/>
<path d="M538.6,429.1 Q546.4,425.1 550.8,418.1 Q555.2,425.1 563.0,429.1 H552.8 L550.8,425.3 L548.8,429.1 Z" fill="#4f83c4"/>
<text x="550.8" y="437.5" font-size="5.8" fill="#1c3f7c" text-anchor="middle" font-weight="bold" font-family="'Liberation Sans', sans-serif" >指揮中心</text>
<rect x="897.6" y="331.7" width="26.8" height="26.0" fill="#fff" stroke="none" stroke-width="1" rx="0" />
<circle cx="910.4" cy="344.5" r="12.6" fill="#fff133" stroke="#222" stroke-width="1.00"/>
<path d="M900.2,344.8 Q906.7,341.5 910.4,335.7 Q914.1,341.5 920.6,344.8 H912.1 L910.4,341.7 L908.7,344.8 Z" fill="#4f83c4"/>
<text x="910.4" y="351.8" font-size="4.839735099337749" fill="#1c3f7c" text-anchor="middle" font-weight="bold" font-family="'Liberation Sans', sans-serif" >指揮中心</text>
<use href="#walkie" transform="translate(568.4 458.6) scale(1.07)"/>
<use href="#walkie" transform="translate(498.5 518.2) scale(0.89)"/>
<circle cx="530.3" cy="516" r="12.5" fill="#fff133" stroke="#111" stroke-width="1.3"/>
<g stroke="#111" stroke-width="2.6" stroke-linecap="round"><path d="M524,510 L536.6,522.6"/><path d="M536.4,510.2 L524.2,522.4"/></g>
<path d="M520.6,510.6 L525.4,506 L529,509.4 L524.2,514 Z" fill="#111"/>
<circle cx="536.8" cy="509.8" r="2.9" fill="#111"/><circle cx="538" cy="508.4" r="1.4" fill="#fff133"/>
<rect x="554.8" y="470.0" width="26.4" height="34.0" fill="#fff" stroke="none" stroke-width="1" rx="0" />
<text x="567.8" y="478.4" font-size="9.4" fill="#d81e2c" text-anchor="middle" font-weight="bold" font-family="'Liberation Sans', sans-serif" textLength="24" lengthAdjust="spacingAndGlyphs">AED</text>
<use href="#heart" transform="translate(567.8 490.6)"/>
<rect x="556.7" y="505.7" width="22.8" height="22.4" fill="#fff" stroke="#1f3a6e" stroke-width="3.7" rx="0" />
<path d="M566.2,510 H570.2 V514.9 H575.1 V518.9 H570.2 V523.8 H566.2 V518.9 H561.3 V514.9 H566.2 Z" fill="#e01b24"/>
<path d="M720.6,630 L749.4,608.8 L778,630 L768.6,630 L749.4,617.2 L730.2,630 Z" fill="#6a6fae"/>
<path d="M730.2,630 L749.4,617.2 L768.6,630 V661 H730.2 Z" fill="#fdf1f1"/><circle cx="748.4" cy="626" r="2.4" fill="#8a1c1c"/>
<circle cx="729" cy="649.8" r="11.6" fill="#f59a16" stroke="#5a2a10" stroke-width="1.4"/>
<rect x="725.0" y="650.6" width="8.4" height="8.6" fill="#6a1410" stroke="none" stroke-width="1" rx="0" />
<rect x="712.0" y="633.6" width="46.6" height="27.8" fill="none" stroke="#8a4a3a" stroke-width="0.9" rx="4" />
<text x="775.0" y="639.6" font-size="8.6" fill="#d81e2c" text-anchor="middle" font-weight="bold" font-family="'Liberation Sans', sans-serif" >AED</text>
<use href="#heart" transform="translate(775 652.4) scale(0.98)"/>
<ellipse cx="387" cy="338" rx="52.4" ry="30.8" fill="none" stroke="#ff0000" stroke-width="7.6" transform="rotate(-3 387 338)"/>
<path d="M167,219 H348.8 Q361.8,219 361.8,232 V268.4 Q361.8,281.4 348.8,281.4 H325.5 L375.5,356 L274,281.4 H167 Q154,281.4 154,268.4 V232 Q154,219 167,219 Z" fill="#ff0000" fill-opacity="0.45" stroke="#2f5597" stroke-width="1.6" stroke-linejoin="round"/>
<text x="258.6" y="259.4" font-size="26" text-anchor="middle" fill="#111" font-family="'Liberation Serif', serif">D <tspan font-weight="900" font-family="'Liberation Sans', sans-serif" font-size="25" stroke="#111" stroke-width="0.7">棟</tspan> 1 <tspan font-weight="900" font-family="'Liberation Sans', sans-serif" font-size="25" stroke="#111" stroke-width="0.7">樓</tspan></text>
<text x="314.5" y="258.0" font-size="10" fill="#556" text-anchor="middle" font-weight="normal" font-family="'Liberation Sans', sans-serif" >↵</text>
<path d="M426,641.9 H452.1 L382,599 L501.7,641.9 H613 Q623.2,641.9 623.2,652 V695 Q623.2,705.4 613,705.4 H426 Q415.8,705.4 415.8,695 V652 Q415.8,641.9 426,641.9 Z" fill="#ff0000" fill-opacity="0.45" stroke="#2f5597" stroke-width="1.6" stroke-linejoin="round"/>
<text x="519.5" y="684.5" font-size="25.4" fill="#111" text-anchor="middle" font-weight="900" font-family="'Liberation Sans', sans-serif" stroke="#111" stroke-width="0.8" stroke-linejoin="round">停車空間</text>
<text x="575.6" y="682.0" font-size="9" fill="#555" text-anchor="middle" font-weight="normal" font-family="'Liberation Sans', sans-serif" >↵</text>
<path d="M648,607.5 H671.9 L649.3,543.2 L725.5,607.5 H835.4 Q845.4,607.5 845.4,617.5 V661 Q845.4,670.9 835.4,670.9 H648 Q638.2,670.9 638.2,661 V617.5 Q638.2,607.5 648,607.5 Z" fill="#ff0000" fill-opacity="0.45" stroke="#2f5597" stroke-width="1.6" stroke-linejoin="round"/>
<text x="742.5" y="650.4" font-size="25.6" fill="#fff" text-anchor="middle" font-weight="900" font-family="'Liberation Sans', sans-serif" stroke="#fff" stroke-width="0.7" stroke-linejoin="round">大穿堂</text>
<text x="786.0" y="645.0" font-size="9" fill="#6b7f8f" text-anchor="middle" font-weight="normal" font-family="'Liberation Sans', sans-serif" >↵</text>
<text x="323.0" y="357.0" font-size="8" fill="#7c89b8" text-anchor="middle" font-weight="normal" font-family="'Liberation Sans', sans-serif" font-style="italic" opacity="0.55">4</text>
<text x="323.0" y="394.0" font-size="8" fill="#7c89b8" text-anchor="middle" font-weight="normal" font-family="'Liberation Sans', sans-serif" font-style="italic" opacity="0.55">3</text>
<text x="325.0" y="443.0" font-size="8" fill="#7c89b8" text-anchor="middle" font-weight="normal" font-family="'Liberation Sans', sans-serif" font-style="italic" opacity="0.55">7</text>
<text x="324.0" y="487.0" font-size="8" fill="#7c89b8" text-anchor="middle" font-weight="normal" font-family="'Liberation Sans', sans-serif" font-style="italic" opacity="0.55">1</text>
<text x="497.0" y="393.0" font-size="8" fill="#7c89b8" text-anchor="middle" font-weight="normal" font-family="'Liberation Sans', sans-serif" font-style="italic" opacity="0.55">3</text>
<text x="497.0" y="443.0" font-size="8" fill="#7c89b8" text-anchor="middle" font-weight="normal" font-family="'Liberation Sans', sans-serif" font-style="italic" opacity="0.55">2</text>
<text x="498.0" y="481.0" font-size="8" fill="#7c89b8" text-anchor="middle" font-weight="normal" font-family="'Liberation Sans', sans-serif" font-style="italic" opacity="0.55">1</text>
<text x="673.0" y="287.0" font-size="8" fill="#7c89b8" text-anchor="middle" font-weight="normal" font-family="'Liberation Sans', sans-serif" font-style="italic" opacity="0.55">5</text>
<text x="683.0" y="339.0" font-size="8" fill="#7c89b8" text-anchor="middle" font-weight="normal" font-family="'Liberation Sans', sans-serif" font-style="italic" opacity="0.55">4</text>
<text x="688.0" y="368.0" font-size="8" fill="#7c89b8" text-anchor="middle" font-weight="normal" font-family="'Liberation Sans', sans-serif" font-style="italic" opacity="0.55">3</text>
<text x="694.0" y="440.0" font-size="8" fill="#7c89b8" text-anchor="middle" font-weight="normal" font-family="'Liberation Sans', sans-serif" font-style="italic" opacity="0.55">2</text>
<text x="802.0" y="208.0" font-size="8" fill="#7c89b8" text-anchor="middle" font-weight="normal" font-family="'Liberation Sans', sans-serif" font-style="italic" opacity="0.55">〃</text>
</svg>
</body>
</html>
